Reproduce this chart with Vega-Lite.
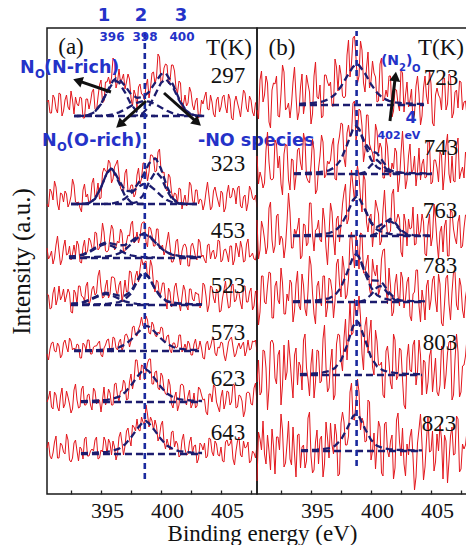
{
"$schema":"https://vega.github.io/schema/vega-lite/v6.json",
"padding":{"left":8,"top":6,"right":0,"bottom":0},
"background":"white",
"spacing":0,
"bounds":"flush",
"config":{"view":{"stroke":"#1a1a1a","strokeWidth":1.5},"axis":{"grid":false}},
"datasets":{
"redA":[
{"s":"297","x":390,"y":392},{"s":"297","x":390.25,"y":381},{"s":"297","x":390.5,"y":399},{"s":"297","x":390.75,"y":385},{"s":"297","x":391,"y":401},{"s":"297","x":391.25,"y":378},{"s":"297","x":391.5,"y":394},{"s":"297","x":391.75,"y":387},{"s":"297","x":392,"y":403},{"s":"297","x":392.25,"y":380},{"s":"297","x":392.5,"y":390},{"s":"297","x":392.75,"y":397},{"s":"297","x":393,"y":376},{"s":"297","x":393.25,"y":395},{"s":"297","x":393.5,"y":385},{"s":"297","x":393.75,"y":402},{"s":"297","x":394,"y":385},{"s":"297","x":394.25,"y":397},{"s":"297","x":394.5,"y":414},{"s":"297","x":394.75,"y":393},{"s":"297","x":395,"y":412},{"s":"297","x":395.25,"y":410},{"s":"297","x":395.5,"y":436},{"s":"297","x":395.75,"y":406},{"s":"297","x":396,"y":425},{"s":"297","x":396.25,"y":415},{"s":"297","x":396.5,"y":405},{"s":"297","x":396.75,"y":420},{"s":"297","x":397,"y":396},{"s":"297","x":397.25,"y":404},{"s":"297","x":397.5,"y":386},{"s":"297","x":397.75,"y":410},{"s":"297","x":398,"y":399},{"s":"297","x":398.25,"y":408},{"s":"297","x":398.5,"y":396},{"s":"297","x":398.75,"y":421},{"s":"297","x":399,"y":410},{"s":"297","x":399.25,"y":440},{"s":"297","x":399.5,"y":411},{"s":"297","x":399.75,"y":426},{"s":"297","x":400,"y":429},{"s":"297","x":400.25,"y":413},{"s":"297","x":400.5,"y":429},{"s":"297","x":400.75,"y":406},{"s":"297","x":401,"y":413},{"s":"297","x":401.25,"y":385},{"s":"297","x":401.5,"y":399},{"s":"297","x":401.75,"y":391},{"s":"297","x":402,"y":402},{"s":"297","x":402.25,"y":384},{"s":"297","x":402.5,"y":396},{"s":"297","x":402.75,"y":379},{"s":"297","x":403,"y":390},{"s":"297","x":403.25,"y":402},{"s":"297","x":403.5,"y":384},{"s":"297","x":403.75,"y":392},{"s":"297","x":404,"y":377},{"s":"297","x":404.25,"y":397},{"s":"297","x":404.5,"y":387},{"s":"297","x":404.75,"y":399},{"s":"297","x":405,"y":381},{"s":"297","x":405.25,"y":395},{"s":"297","x":405.5,"y":374},{"s":"297","x":405.75,"y":398},{"s":"297","x":406,"y":385},{"s":"297","x":406.25,"y":391},{"s":"297","x":406.5,"y":401},{"s":"297","x":406.75,"y":382},{"s":"297","x":407,"y":394},{"s":"297","x":407.25,"y":378},{"s":"297","x":407.5,"y":393},
{"s":"297","x":390.125,"y":394},{"s":"297","x":390.375,"y":381},{"s":"297","x":390.625,"y":396},{"s":"297","x":390.875,"y":381},{"s":"297","x":391.125,"y":400},{"s":"297","x":391.375,"y":383},{"s":"297","x":391.625,"y":399},{"s":"297","x":391.875,"y":384},{"s":"297","x":392.125,"y":394},{"s":"297","x":392.375,"y":397},{"s":"297","x":392.625,"y":388},{"s":"297","x":392.875,"y":396},{"s":"297","x":393.125,"y":376},{"s":"297","x":393.375,"y":395},{"s":"297","x":393.625,"y":392},{"s":"297","x":393.875,"y":405},{"s":"297","x":394.125,"y":383},{"s":"297","x":394.375,"y":409},{"s":"297","x":394.625,"y":391},{"s":"297","x":394.875,"y":412},{"s":"297","x":395.125,"y":417},{"s":"297","x":395.375,"y":416},{"s":"297","x":395.625,"y":433},{"s":"297","x":395.875,"y":412},{"s":"297","x":396.125,"y":411},{"s":"297","x":396.375,"y":420},{"s":"297","x":396.625,"y":412},{"s":"297","x":396.875,"y":415},{"s":"297","x":397.125,"y":388},{"s":"297","x":397.375,"y":399},{"s":"297","x":397.625,"y":407},{"s":"297","x":397.875,"y":400},{"s":"297","x":398.125,"y":394},{"s":"297","x":398.375,"y":415},{"s":"297","x":398.625,"y":406},{"s":"297","x":398.875,"y":422},{"s":"297","x":399.125,"y":417},{"s":"297","x":399.375,"y":437},{"s":"297","x":399.625,"y":413},{"s":"297","x":399.875,"y":430},{"s":"297","x":400.125,"y":410},{"s":"297","x":400.375,"y":429},{"s":"297","x":400.625,"y":423},{"s":"297","x":400.875,"y":401},{"s":"297","x":401.125,"y":411},{"s":"297","x":401.375,"y":390},{"s":"297","x":401.625,"y":388},{"s":"297","x":401.875,"y":407},{"s":"297","x":402.125,"y":389},{"s":"297","x":402.375,"y":393},{"s":"297","x":402.625,"y":376},{"s":"297","x":402.875,"y":394},{"s":"297","x":403.125,"y":397},{"s":"297","x":403.375,"y":385},{"s":"297","x":403.625,"y":399},{"s":"297","x":403.875,"y":380},{"s":"297","x":404.125,"y":394},{"s":"297","x":404.375,"y":382},{"s":"297","x":404.625,"y":397},{"s":"297","x":404.875,"y":387},{"s":"297","x":405.125,"y":400},{"s":"297","x":405.375,"y":376},{"s":"297","x":405.625,"y":392},{"s":"297","x":405.875,"y":391},{"s":"297","x":406.125,"y":377},{"s":"297","x":406.375,"y":404},{"s":"297","x":406.625,"y":386},{"s":"297","x":406.875,"y":398},{"s":"297","x":407.125,"y":382},{"s":"297","x":407.375,"y":391},
{"s":"323","x":390,"y":290},{"s":"323","x":390.25,"y":305},{"s":"323","x":390.5,"y":294},{"s":"323","x":390.75,"y":307},{"s":"323","x":391,"y":284},{"s":"323","x":391.25,"y":300},{"s":"323","x":391.5,"y":303},{"s":"323","x":391.75,"y":287},{"s":"323","x":392,"y":298},{"s":"323","x":392.25,"y":309},{"s":"323","x":392.5,"y":291},{"s":"323","x":392.75,"y":286},{"s":"323","x":393,"y":304},{"s":"323","x":393.25,"y":297},{"s":"323","x":393.5,"y":290},{"s":"323","x":393.75,"y":311},{"s":"323","x":394,"y":297},{"s":"323","x":394.25,"y":311},{"s":"323","x":394.5,"y":296},{"s":"323","x":394.75,"y":326},{"s":"323","x":395,"y":322},{"s":"323","x":395.25,"y":331},{"s":"323","x":395.5,"y":315},{"s":"323","x":395.75,"y":330},{"s":"323","x":396,"y":319},{"s":"323","x":396.25,"y":303},{"s":"323","x":396.5,"y":321},{"s":"323","x":396.75,"y":303},{"s":"323","x":397,"y":309},{"s":"323","x":397.25,"y":297},{"s":"323","x":397.5,"y":319},{"s":"323","x":397.75,"y":310},{"s":"323","x":398,"y":331},{"s":"323","x":398.25,"y":326},{"s":"323","x":398.5,"y":322},{"s":"323","x":398.75,"y":339},{"s":"323","x":399,"y":322},{"s":"323","x":399.25,"y":342},{"s":"323","x":399.5,"y":324},{"s":"323","x":399.75,"y":322},{"s":"323","x":400,"y":303},{"s":"323","x":400.25,"y":317},{"s":"323","x":400.5,"y":295},{"s":"323","x":400.75,"y":300},{"s":"323","x":401,"y":306},{"s":"323","x":401.25,"y":285},{"s":"323","x":401.5,"y":299},{"s":"323","x":401.75,"y":292},{"s":"323","x":402,"y":309},{"s":"323","x":402.25,"y":289},{"s":"323","x":402.5,"y":304},{"s":"323","x":402.75,"y":295},{"s":"323","x":403,"y":284},{"s":"323","x":403.25,"y":302},{"s":"323","x":403.5,"y":298},{"s":"323","x":403.75,"y":287},{"s":"323","x":404,"y":307},{"s":"323","x":404.25,"y":293},{"s":"323","x":404.5,"y":303},{"s":"323","x":404.75,"y":282},{"s":"323","x":405,"y":301},{"s":"323","x":405.25,"y":296},{"s":"323","x":405.5,"y":306},{"s":"323","x":405.75,"y":290},{"s":"323","x":406,"y":308},{"s":"323","x":406.25,"y":286},{"s":"323","x":406.5,"y":299},{"s":"323","x":406.75,"y":291},{"s":"323","x":407,"y":304},{"s":"323","x":407.25,"y":294},{"s":"323","x":407.5,"y":287},
{"s":"323","x":390.125,"y":287},{"s":"323","x":390.375,"y":302},{"s":"323","x":390.625,"y":313},{"s":"323","x":390.875,"y":290},{"s":"323","x":391.125,"y":301},{"s":"323","x":391.375,"y":292},{"s":"323","x":391.625,"y":300},{"s":"323","x":391.875,"y":291},{"s":"323","x":392.125,"y":315},{"s":"323","x":392.375,"y":292},{"s":"323","x":392.625,"y":292},{"s":"323","x":392.875,"y":282},{"s":"323","x":393.125,"y":310},{"s":"323","x":393.375,"y":300},{"s":"323","x":393.625,"y":294},{"s":"323","x":393.875,"y":316},{"s":"323","x":394.125,"y":300},{"s":"323","x":394.375,"y":295},{"s":"323","x":394.625,"y":321},{"s":"323","x":394.875,"y":323},{"s":"323","x":395.125,"y":334},{"s":"323","x":395.375,"y":311},{"s":"323","x":395.625,"y":327},{"s":"323","x":395.875,"y":334},{"s":"323","x":396.125,"y":306},{"s":"323","x":396.375,"y":302},{"s":"323","x":396.625,"y":325},{"s":"323","x":396.875,"y":303},{"s":"323","x":397.125,"y":309},{"s":"323","x":397.375,"y":300},{"s":"323","x":397.625,"y":326},{"s":"323","x":397.875,"y":315},{"s":"323","x":398.125,"y":331},{"s":"323","x":398.375,"y":313},{"s":"323","x":398.625,"y":339},{"s":"323","x":398.875,"y":336},{"s":"323","x":399.125,"y":323},{"s":"323","x":399.375,"y":345},{"s":"323","x":399.625,"y":321},{"s":"323","x":399.875,"y":306},{"s":"323","x":400.125,"y":320},{"s":"323","x":400.375,"y":302},{"s":"323","x":400.625,"y":301},{"s":"323","x":400.875,"y":291},{"s":"323","x":401.125,"y":305},{"s":"323","x":401.375,"y":293},{"s":"323","x":401.625,"y":288},{"s":"323","x":401.875,"y":312},{"s":"323","x":402.125,"y":294},{"s":"323","x":402.375,"y":304},{"s":"323","x":402.625,"y":290},{"s":"323","x":402.875,"y":294},{"s":"323","x":403.125,"y":290},{"s":"323","x":403.375,"y":312},{"s":"323","x":403.625,"y":284},{"s":"323","x":403.875,"y":303},{"s":"323","x":404.125,"y":299},{"s":"323","x":404.375,"y":287},{"s":"323","x":404.625,"y":301},{"s":"323","x":404.875,"y":286},{"s":"323","x":405.125,"y":309},{"s":"323","x":405.375,"y":297},{"s":"323","x":405.625,"y":303},{"s":"323","x":405.875,"y":306},{"s":"323","x":406.125,"y":288},{"s":"323","x":406.375,"y":297},{"s":"323","x":406.625,"y":283},{"s":"323","x":406.875,"y":308},{"s":"323","x":407.125,"y":296},{"s":"323","x":407.375,"y":299},
{"s":"453","x":390,"y":246},{"s":"453","x":390.25,"y":238},{"s":"453","x":390.5,"y":230},{"s":"453","x":390.75,"y":249},{"s":"453","x":391,"y":243},{"s":"453","x":391.25,"y":234},{"s":"453","x":391.5,"y":254},{"s":"453","x":391.75,"y":240},{"s":"453","x":392,"y":234},{"s":"453","x":392.25,"y":249},{"s":"453","x":392.5,"y":253},{"s":"453","x":392.75,"y":232},{"s":"453","x":393,"y":247},{"s":"453","x":393.25,"y":240},{"s":"453","x":393.5,"y":256},{"s":"453","x":393.75,"y":246},{"s":"453","x":394,"y":262},{"s":"453","x":394.25,"y":244},{"s":"453","x":394.5,"y":253},{"s":"453","x":394.75,"y":262},{"s":"453","x":395,"y":242},{"s":"453","x":395.25,"y":258},{"s":"453","x":395.5,"y":265},{"s":"453","x":395.75,"y":247},{"s":"453","x":396,"y":251},{"s":"453","x":396.25,"y":261},{"s":"453","x":396.5,"y":243},{"s":"453","x":396.75,"y":259},{"s":"453","x":397,"y":270},{"s":"453","x":397.25,"y":251},{"s":"453","x":397.5,"y":262},{"s":"453","x":397.75,"y":257},{"s":"453","x":398,"y":272},{"s":"453","x":398.25,"y":252},{"s":"453","x":398.5,"y":267},{"s":"453","x":398.75,"y":259},{"s":"453","x":399,"y":248},{"s":"453","x":399.25,"y":265},{"s":"453","x":399.5,"y":247},{"s":"453","x":399.75,"y":239},{"s":"453","x":400,"y":253},{"s":"453","x":400.25,"y":248},{"s":"453","x":400.5,"y":232},{"s":"453","x":400.75,"y":253},{"s":"453","x":401,"y":238},{"s":"453","x":401.25,"y":243},{"s":"453","x":401.5,"y":250},{"s":"453","x":401.75,"y":228},{"s":"453","x":402,"y":248},{"s":"453","x":402.25,"y":245},{"s":"453","x":402.5,"y":234},{"s":"453","x":402.75,"y":252},{"s":"453","x":403,"y":239},{"s":"453","x":403.25,"y":231},{"s":"453","x":403.5,"y":250},{"s":"453","x":403.75,"y":242},{"s":"453","x":404,"y":235},{"s":"453","x":404.25,"y":254},{"s":"453","x":404.5,"y":232},{"s":"453","x":404.75,"y":244},{"s":"453","x":405,"y":240},{"s":"453","x":405.25,"y":248},{"s":"453","x":405.5,"y":229},{"s":"453","x":405.75,"y":251},{"s":"453","x":406,"y":237},{"s":"453","x":406.25,"y":246},{"s":"453","x":406.5,"y":233},{"s":"453","x":406.75,"y":255},{"s":"453","x":407,"y":238},{"s":"453","x":407.25,"y":235},{"s":"453","x":407.5,"y":243},
{"s":"453","x":390.125,"y":235},{"s":"453","x":390.375,"y":243},{"s":"453","x":390.625,"y":236},{"s":"453","x":390.875,"y":258},{"s":"453","x":391.125,"y":229},{"s":"453","x":391.375,"y":247},{"s":"453","x":391.625,"y":239},{"s":"453","x":391.875,"y":248},{"s":"453","x":392.125,"y":240},{"s":"453","x":392.375,"y":239},{"s":"453","x":392.625,"y":249},{"s":"453","x":392.875,"y":231},{"s":"453","x":393.125,"y":254},{"s":"453","x":393.375,"y":243},{"s":"453","x":393.625,"y":253},{"s":"453","x":393.875,"y":243},{"s":"453","x":394.125,"y":261},{"s":"453","x":394.375,"y":246},{"s":"453","x":394.625,"y":271},{"s":"453","x":394.875,"y":243},{"s":"453","x":395.125,"y":244},{"s":"453","x":395.375,"y":269},{"s":"453","x":395.625,"y":244},{"s":"453","x":395.875,"y":253},{"s":"453","x":396.125,"y":265},{"s":"453","x":396.375,"y":242},{"s":"453","x":396.625,"y":252},{"s":"453","x":396.875,"y":258},{"s":"453","x":397.125,"y":273},{"s":"453","x":397.375,"y":253},{"s":"453","x":397.625,"y":251},{"s":"453","x":397.875,"y":270},{"s":"453","x":398.125,"y":272},{"s":"453","x":398.375,"y":247},{"s":"453","x":398.625,"y":266},{"s":"453","x":398.875,"y":248},{"s":"453","x":399.125,"y":265},{"s":"453","x":399.375,"y":245},{"s":"453","x":399.625,"y":249},{"s":"453","x":399.875,"y":244},{"s":"453","x":400.125,"y":262},{"s":"453","x":400.375,"y":232},{"s":"453","x":400.625,"y":238},{"s":"453","x":400.875,"y":255},{"s":"453","x":401.125,"y":229},{"s":"453","x":401.375,"y":249},{"s":"453","x":401.625,"y":246},{"s":"453","x":401.875,"y":228},{"s":"453","x":402.125,"y":251},{"s":"453","x":402.375,"y":237},{"s":"453","x":402.625,"y":255},{"s":"453","x":402.875,"y":237},{"s":"453","x":403.125,"y":234},{"s":"453","x":403.375,"y":249},{"s":"453","x":403.625,"y":235},{"s":"453","x":403.875,"y":244},{"s":"453","x":404.125,"y":238},{"s":"453","x":404.375,"y":253},{"s":"453","x":404.625,"y":234},{"s":"453","x":404.875,"y":245},{"s":"453","x":405.125,"y":232},{"s":"453","x":405.375,"y":248},{"s":"453","x":405.625,"y":234},{"s":"453","x":405.875,"y":245},{"s":"453","x":406.125,"y":253},{"s":"453","x":406.375,"y":232},{"s":"453","x":406.625,"y":250},{"s":"453","x":406.875,"y":237},{"s":"453","x":407.125,"y":241},{"s":"453","x":407.375,"y":234},
{"s":"523","x":390,"y":200},{"s":"523","x":390.25,"y":185},{"s":"523","x":390.5,"y":201},{"s":"523","x":390.75,"y":189},{"s":"523","x":391,"y":208},{"s":"523","x":391.25,"y":198},{"s":"523","x":391.5,"y":192},{"s":"523","x":391.75,"y":205},{"s":"523","x":392,"y":182},{"s":"523","x":392.25,"y":204},{"s":"523","x":392.5,"y":190},{"s":"523","x":392.75,"y":208},{"s":"523","x":393,"y":197},{"s":"523","x":393.25,"y":208},{"s":"523","x":393.5,"y":189},{"s":"523","x":393.75,"y":205},{"s":"523","x":394,"y":199},{"s":"523","x":394.25,"y":218},{"s":"523","x":394.5,"y":207},{"s":"523","x":394.75,"y":197},{"s":"523","x":395,"y":214},{"s":"523","x":395.25,"y":200},{"s":"523","x":395.5,"y":217},{"s":"523","x":395.75,"y":204},{"s":"523","x":396,"y":209},{"s":"523","x":396.25,"y":192},{"s":"523","x":396.5,"y":214},{"s":"523","x":396.75,"y":203},{"s":"523","x":397,"y":222},{"s":"523","x":397.25,"y":206},{"s":"523","x":397.5,"y":223},{"s":"523","x":397.75,"y":225},{"s":"523","x":398,"y":229},{"s":"523","x":398.25,"y":233},{"s":"523","x":398.5,"y":217},{"s":"523","x":398.75,"y":228},{"s":"523","x":399,"y":202},{"s":"523","x":399.25,"y":212},{"s":"523","x":399.5,"y":202},{"s":"523","x":399.75,"y":211},{"s":"523","x":400,"y":185},{"s":"523","x":400.25,"y":202},{"s":"523","x":400.5,"y":190},{"s":"523","x":400.75,"y":211},{"s":"523","x":401,"y":191},{"s":"523","x":401.25,"y":197},{"s":"523","x":401.5,"y":204},{"s":"523","x":401.75,"y":184},{"s":"523","x":402,"y":205},{"s":"523","x":402.25,"y":193},{"s":"523","x":402.5,"y":200},{"s":"523","x":402.75,"y":186},{"s":"523","x":403,"y":211},{"s":"523","x":403.25,"y":198},{"s":"523","x":403.5,"y":189},{"s":"523","x":403.75,"y":207},{"s":"523","x":404,"y":191},{"s":"523","x":404.25,"y":202},{"s":"523","x":404.5,"y":183},{"s":"523","x":404.75,"y":204},{"s":"523","x":405,"y":197},{"s":"523","x":405.25,"y":187},{"s":"523","x":405.5,"y":210},{"s":"523","x":405.75,"y":194},{"s":"523","x":406,"y":201},{"s":"523","x":406.25,"y":185},{"s":"523","x":406.5,"y":208},{"s":"523","x":406.75,"y":192},{"s":"523","x":407,"y":206},{"s":"523","x":407.25,"y":188},{"s":"523","x":407.5,"y":199},
{"s":"523","x":390.125,"y":199},{"s":"523","x":390.375,"y":186},{"s":"523","x":390.625,"y":207},{"s":"523","x":390.875,"y":195},{"s":"523","x":391.125,"y":194},{"s":"523","x":391.375,"y":205},{"s":"523","x":391.625,"y":198},{"s":"523","x":391.875,"y":201},{"s":"523","x":392.125,"y":181},{"s":"523","x":392.375,"y":201},{"s":"523","x":392.625,"y":208},{"s":"523","x":392.875,"y":198},{"s":"523","x":393.125,"y":193},{"s":"523","x":393.375,"y":212},{"s":"523","x":393.625,"y":194},{"s":"523","x":393.875,"y":208},{"s":"523","x":394.125,"y":201},{"s":"523","x":394.375,"y":224},{"s":"523","x":394.625,"y":196},{"s":"523","x":394.875,"y":208},{"s":"523","x":395.125,"y":196},{"s":"523","x":395.375,"y":217},{"s":"523","x":395.625,"y":216},{"s":"523","x":395.875,"y":198},{"s":"523","x":396.125,"y":213},{"s":"523","x":396.375,"y":201},{"s":"523","x":396.625,"y":202},{"s":"523","x":396.875,"y":223},{"s":"523","x":397.125,"y":210},{"s":"523","x":397.375,"y":218},{"s":"523","x":397.625,"y":212},{"s":"523","x":397.875,"y":236},{"s":"523","x":398.125,"y":232},{"s":"523","x":398.375,"y":217},{"s":"523","x":398.625,"y":234},{"s":"523","x":398.875,"y":210},{"s":"523","x":399.125,"y":214},{"s":"523","x":399.375,"y":197},{"s":"523","x":399.625,"y":211},{"s":"523","x":399.875,"y":195},{"s":"523","x":400.125,"y":206},{"s":"523","x":400.375,"y":187},{"s":"523","x":400.625,"y":207},{"s":"523","x":400.875,"y":200},{"s":"523","x":401.125,"y":183},{"s":"523","x":401.375,"y":209},{"s":"523","x":401.625,"y":188},{"s":"523","x":401.875,"y":205},{"s":"523","x":402.125,"y":195},{"s":"523","x":402.375,"y":202},{"s":"523","x":402.625,"y":200},{"s":"523","x":402.875,"y":190},{"s":"523","x":403.125,"y":209},{"s":"523","x":403.375,"y":182},{"s":"523","x":403.625,"y":208},{"s":"523","x":403.875,"y":196},{"s":"523","x":404.125,"y":205},{"s":"523","x":404.375,"y":182},{"s":"523","x":404.625,"y":196},{"s":"523","x":404.875,"y":213},{"s":"523","x":405.125,"y":186},{"s":"523","x":405.375,"y":208},{"s":"523","x":405.625,"y":192},{"s":"523","x":405.875,"y":203},{"s":"523","x":406.125,"y":191},{"s":"523","x":406.375,"y":208},{"s":"523","x":406.625,"y":192},{"s":"523","x":406.875,"y":202},{"s":"523","x":407.125,"y":184},{"s":"523","x":407.375,"y":203},
{"s":"573","x":390,"y":140},{"s":"573","x":390.25,"y":145},{"s":"573","x":390.5,"y":152},{"s":"573","x":390.75,"y":142},{"s":"573","x":391,"y":148},{"s":"573","x":391.25,"y":139},{"s":"573","x":391.5,"y":154},{"s":"573","x":391.75,"y":142},{"s":"573","x":392,"y":153},{"s":"573","x":392.25,"y":146},{"s":"573","x":392.5,"y":150},{"s":"573","x":392.75,"y":136},{"s":"573","x":393,"y":151},{"s":"573","x":393.25,"y":144},{"s":"573","x":393.5,"y":154},{"s":"573","x":393.75,"y":140},{"s":"573","x":394,"y":148},{"s":"573","x":394.25,"y":151},{"s":"573","x":394.5,"y":139},{"s":"573","x":394.75,"y":146},{"s":"573","x":395,"y":154},{"s":"573","x":395.25,"y":143},{"s":"573","x":395.5,"y":157},{"s":"573","x":395.75,"y":146},{"s":"573","x":396,"y":152},{"s":"573","x":396.25,"y":143},{"s":"573","x":396.5,"y":159},{"s":"573","x":396.75,"y":156},{"s":"573","x":397,"y":153},{"s":"573","x":397.25,"y":168},{"s":"573","x":397.5,"y":158},{"s":"573","x":397.75,"y":169},{"s":"573","x":398,"y":168},{"s":"573","x":398.25,"y":178},{"s":"573","x":398.5,"y":161},{"s":"573","x":398.75,"y":172},{"s":"573","x":399,"y":159},{"s":"573","x":399.25,"y":162},{"s":"573","x":399.5,"y":167},{"s":"573","x":399.75,"y":152},{"s":"573","x":400,"y":158},{"s":"573","x":400.25,"y":144},{"s":"573","x":400.5,"y":151},{"s":"573","x":400.75,"y":146},{"s":"573","x":401,"y":159},{"s":"573","x":401.25,"y":142},{"s":"573","x":401.5,"y":150},{"s":"573","x":401.75,"y":153},{"s":"573","x":402,"y":139},{"s":"573","x":402.25,"y":150},{"s":"573","x":402.5,"y":145},{"s":"573","x":402.75,"y":153},{"s":"573","x":403,"y":136},{"s":"573","x":403.25,"y":150},{"s":"573","x":403.5,"y":144},{"s":"573","x":403.75,"y":154},{"s":"573","x":404,"y":141},{"s":"573","x":404.25,"y":147},{"s":"573","x":404.5,"y":152},{"s":"573","x":404.75,"y":139},{"s":"573","x":405,"y":142},{"s":"573","x":405.25,"y":155},{"s":"573","x":405.5,"y":147},{"s":"573","x":405.75,"y":140},{"s":"573","x":406,"y":151},{"s":"573","x":406.25,"y":149},{"s":"573","x":406.5,"y":138},{"s":"573","x":406.75,"y":154},{"s":"573","x":407,"y":145},{"s":"573","x":407.25,"y":152},{"s":"573","x":407.5,"y":142},
{"s":"573","x":390.125,"y":134},{"s":"573","x":390.375,"y":151},{"s":"573","x":390.625,"y":143},{"s":"573","x":390.875,"y":151},{"s":"573","x":391.125,"y":136},{"s":"573","x":391.375,"y":151},{"s":"573","x":391.625,"y":147},{"s":"573","x":391.875,"y":156},{"s":"573","x":392.125,"y":144},{"s":"573","x":392.375,"y":144},{"s":"573","x":392.625,"y":149},{"s":"573","x":392.875,"y":136},{"s":"573","x":393.125,"y":149},{"s":"573","x":393.375,"y":154},{"s":"573","x":393.625,"y":140},{"s":"573","x":393.875,"y":147},{"s":"573","x":394.125,"y":148},{"s":"573","x":394.375,"y":153},{"s":"573","x":394.625,"y":137},{"s":"573","x":394.875,"y":149},{"s":"573","x":395.125,"y":155},{"s":"573","x":395.375,"y":142},{"s":"573","x":395.625,"y":156},{"s":"573","x":395.875,"y":144},{"s":"573","x":396.125,"y":155},{"s":"573","x":396.375,"y":148},{"s":"573","x":396.625,"y":160},{"s":"573","x":396.875,"y":147},{"s":"573","x":397.125,"y":167},{"s":"573","x":397.375,"y":159},{"s":"573","x":397.625,"y":165},{"s":"573","x":397.875,"y":177},{"s":"573","x":398.125,"y":167},{"s":"573","x":398.375,"y":174},{"s":"573","x":398.625,"y":160},{"s":"573","x":398.875,"y":169},{"s":"573","x":399.125,"y":157},{"s":"573","x":399.375,"y":160},{"s":"573","x":399.625,"y":166},{"s":"573","x":399.875,"y":152},{"s":"573","x":400.125,"y":159},{"s":"573","x":400.375,"y":141},{"s":"573","x":400.625,"y":151},{"s":"573","x":400.875,"y":147},{"s":"573","x":401.125,"y":159},{"s":"573","x":401.375,"y":145},{"s":"573","x":401.625,"y":144},{"s":"573","x":401.875,"y":150},{"s":"573","x":402.125,"y":139},{"s":"573","x":402.375,"y":155},{"s":"573","x":402.625,"y":145},{"s":"573","x":402.875,"y":146},{"s":"573","x":403.125,"y":135},{"s":"573","x":403.375,"y":153},{"s":"573","x":403.625,"y":147},{"s":"573","x":403.875,"y":157},{"s":"573","x":404.125,"y":138},{"s":"573","x":404.375,"y":146},{"s":"573","x":404.625,"y":151},{"s":"573","x":404.875,"y":133},{"s":"573","x":405.125,"y":152},{"s":"573","x":405.375,"y":157},{"s":"573","x":405.625,"y":137},{"s":"573","x":405.875,"y":147},{"s":"573","x":406.125,"y":145},{"s":"573","x":406.375,"y":152},{"s":"573","x":406.625,"y":143},{"s":"573","x":406.875,"y":144},{"s":"573","x":407.125,"y":153},{"s":"573","x":407.375,"y":154},
{"s":"623","x":390,"y":92},{"s":"623","x":390.25,"y":103},{"s":"623","x":390.5,"y":85},{"s":"623","x":390.75,"y":99},{"s":"623","x":391,"y":83},{"s":"623","x":391.25,"y":106},{"s":"623","x":391.5,"y":90},{"s":"623","x":391.75,"y":97},{"s":"623","x":392,"y":81},{"s":"623","x":392.25,"y":104},{"s":"623","x":392.5,"y":94},{"s":"623","x":392.75,"y":87},{"s":"623","x":393,"y":108},{"s":"623","x":393.25,"y":89},{"s":"623","x":393.5,"y":100},{"s":"623","x":393.75,"y":84},{"s":"623","x":394,"y":103},{"s":"623","x":394.25,"y":94},{"s":"623","x":394.5,"y":82},{"s":"623","x":394.75,"y":107},{"s":"623","x":395,"y":93},{"s":"623","x":395.25,"y":101},{"s":"623","x":395.5,"y":89},{"s":"623","x":395.75,"y":111},{"s":"623","x":396,"y":93},{"s":"623","x":396.25,"y":103},{"s":"623","x":396.5,"y":111},{"s":"623","x":396.75,"y":95},{"s":"623","x":397,"y":120},{"s":"623","x":397.25,"y":113},{"s":"623","x":397.5,"y":134},{"s":"623","x":397.75,"y":114},{"s":"623","x":398,"y":128},{"s":"623","x":398.25,"y":122},{"s":"623","x":398.5,"y":135},{"s":"623","x":398.75,"y":110},{"s":"623","x":399,"y":122},{"s":"623","x":399.25,"y":106},{"s":"623","x":399.5,"y":121},{"s":"623","x":399.75,"y":105},{"s":"623","x":400,"y":99},{"s":"623","x":400.25,"y":109},{"s":"623","x":400.5,"y":86},{"s":"623","x":400.75,"y":102},{"s":"623","x":401,"y":89},{"s":"623","x":401.25,"y":110},{"s":"623","x":401.5,"y":93},{"s":"623","x":401.75,"y":98},{"s":"623","x":402,"y":86},{"s":"623","x":402.25,"y":101},{"s":"623","x":402.5,"y":88},{"s":"623","x":402.75,"y":105},{"s":"623","x":403,"y":94},{"s":"623","x":403.25,"y":82},{"s":"623","x":403.5,"y":100},{"s":"623","x":403.75,"y":92},{"s":"623","x":404,"y":107},{"s":"623","x":404.25,"y":87},{"s":"623","x":404.5,"y":97},{"s":"623","x":404.75,"y":85},{"s":"623","x":405,"y":103},{"s":"623","x":405.25,"y":89},{"s":"623","x":405.5,"y":110},{"s":"623","x":405.75,"y":86},{"s":"623","x":406,"y":99},{"s":"623","x":406.25,"y":93},{"s":"623","x":406.5,"y":83},{"s":"623","x":406.75,"y":102},{"s":"623","x":407,"y":90},{"s":"623","x":407.25,"y":106},{"s":"623","x":407.5,"y":91},
{"s":"623","x":390.125,"y":96},{"s":"623","x":390.375,"y":87},{"s":"623","x":390.625,"y":102},{"s":"623","x":390.875,"y":87},{"s":"623","x":391.125,"y":98},{"s":"623","x":391.375,"y":86},{"s":"623","x":391.625,"y":103},{"s":"623","x":391.875,"y":90},{"s":"623","x":392.125,"y":85},{"s":"623","x":392.375,"y":110},{"s":"623","x":392.625,"y":86},{"s":"623","x":392.875,"y":105},{"s":"623","x":393.125,"y":89},{"s":"623","x":393.375,"y":99},{"s":"623","x":393.625,"y":89},{"s":"623","x":393.875,"y":106},{"s":"623","x":394.125,"y":90},{"s":"623","x":394.375,"y":94},{"s":"623","x":394.625,"y":94},{"s":"623","x":394.875,"y":89},{"s":"623","x":395.125,"y":105},{"s":"623","x":395.375,"y":89},{"s":"623","x":395.625,"y":110},{"s":"623","x":395.875,"y":98},{"s":"623","x":396.125,"y":103},{"s":"623","x":396.375,"y":114},{"s":"623","x":396.625,"y":94},{"s":"623","x":396.875,"y":112},{"s":"623","x":397.125,"y":105},{"s":"623","x":397.375,"y":134},{"s":"623","x":397.625,"y":121},{"s":"623","x":397.875,"y":129},{"s":"623","x":398.125,"y":114},{"s":"623","x":398.375,"y":131},{"s":"623","x":398.625,"y":135},{"s":"623","x":398.875,"y":110},{"s":"623","x":399.125,"y":123},{"s":"623","x":399.375,"y":104},{"s":"623","x":399.625,"y":118},{"s":"623","x":399.875,"y":100},{"s":"623","x":400.125,"y":115},{"s":"623","x":400.375,"y":90},{"s":"623","x":400.625,"y":97},{"s":"623","x":400.875,"y":83},{"s":"623","x":401.125,"y":109},{"s":"623","x":401.375,"y":108},{"s":"623","x":401.625,"y":89},{"s":"623","x":401.875,"y":104},{"s":"623","x":402.125,"y":90},{"s":"623","x":402.375,"y":86},{"s":"623","x":402.625,"y":107},{"s":"623","x":402.875,"y":99},{"s":"623","x":403.125,"y":95},{"s":"623","x":403.375,"y":79},{"s":"623","x":403.625,"y":100},{"s":"623","x":403.875,"y":109},{"s":"623","x":404.125,"y":92},{"s":"623","x":404.375,"y":82},{"s":"623","x":404.625,"y":104},{"s":"623","x":404.875,"y":91},{"s":"623","x":405.125,"y":102},{"s":"623","x":405.375,"y":92},{"s":"623","x":405.625,"y":109},{"s":"623","x":405.875,"y":87},{"s":"623","x":406.125,"y":98},{"s":"623","x":406.375,"y":77},{"s":"623","x":406.625,"y":101},{"s":"623","x":406.875,"y":101},{"s":"623","x":407.125,"y":89},{"s":"623","x":407.375,"y":111},
{"s":"643","x":390,"y":46},{"s":"643","x":390.25,"y":38},{"s":"643","x":390.5,"y":41},{"s":"643","x":390.75,"y":58},{"s":"643","x":391,"y":36},{"s":"643","x":391.25,"y":49},{"s":"643","x":391.5,"y":40},{"s":"643","x":391.75,"y":54},{"s":"643","x":392,"y":32},{"s":"643","x":392.25,"y":51},{"s":"643","x":392.5,"y":43},{"s":"643","x":392.75,"y":47},{"s":"643","x":393,"y":35},{"s":"643","x":393.25,"y":57},{"s":"643","x":393.5,"y":38},{"s":"643","x":393.75,"y":45},{"s":"643","x":394,"y":54},{"s":"643","x":394.25,"y":35},{"s":"643","x":394.5,"y":44},{"s":"643","x":394.75,"y":57},{"s":"643","x":395,"y":39},{"s":"643","x":395.25,"y":51},{"s":"643","x":395.5,"y":53},{"s":"643","x":395.75,"y":34},{"s":"643","x":396,"y":57},{"s":"643","x":396.25,"y":51},{"s":"643","x":396.5,"y":48},{"s":"643","x":396.75,"y":66},{"s":"643","x":397,"y":48},{"s":"643","x":397.25,"y":67},{"s":"643","x":397.5,"y":75},{"s":"643","x":397.75,"y":63},{"s":"643","x":398,"y":72},{"s":"643","x":398.25,"y":89},{"s":"643","x":398.5,"y":67},{"s":"643","x":398.75,"y":73},{"s":"643","x":399,"y":74},{"s":"643","x":399.25,"y":53},{"s":"643","x":399.5,"y":69},{"s":"643","x":399.75,"y":52},{"s":"643","x":400,"y":55},{"s":"643","x":400.25,"y":44},{"s":"643","x":400.5,"y":63},{"s":"643","x":400.75,"y":53},{"s":"643","x":401,"y":37},{"s":"643","x":401.25,"y":54},{"s":"643","x":401.5,"y":45},{"s":"643","x":401.75,"y":40},{"s":"643","x":402,"y":57},{"s":"643","x":402.25,"y":48},{"s":"643","x":402.5,"y":31},{"s":"643","x":402.75,"y":51},{"s":"643","x":403,"y":44},{"s":"643","x":403.25,"y":36},{"s":"643","x":403.5,"y":56},{"s":"643","x":403.75,"y":42},{"s":"643","x":404,"y":53},{"s":"643","x":404.25,"y":39},{"s":"643","x":404.5,"y":47},{"s":"643","x":404.75,"y":32},{"s":"643","x":405,"y":54},{"s":"643","x":405.25,"y":50},{"s":"643","x":405.5,"y":35},{"s":"643","x":405.75,"y":43},{"s":"643","x":406,"y":57},{"s":"643","x":406.25,"y":37},{"s":"643","x":406.5,"y":46},{"s":"643","x":406.75,"y":52},{"s":"643","x":407,"y":33},{"s":"643","x":407.25,"y":41},{"s":"643","x":407.5,"y":49},
{"s":"643","x":390.125,"y":52},{"s":"643","x":390.375,"y":35},{"s":"643","x":390.625,"y":52},{"s":"643","x":390.875,"y":36},{"s":"643","x":391.125,"y":51},{"s":"643","x":391.375,"y":42},{"s":"643","x":391.625,"y":60},{"s":"643","x":391.875,"y":34},{"s":"643","x":392.125,"y":36},{"s":"643","x":392.375,"y":54},{"s":"643","x":392.625,"y":33},{"s":"643","x":392.875,"y":45},{"s":"643","x":393.125,"y":55},{"s":"643","x":393.375,"y":38},{"s":"643","x":393.625,"y":43},{"s":"643","x":393.875,"y":43},{"s":"643","x":394.125,"y":57},{"s":"643","x":394.375,"y":36},{"s":"643","x":394.625,"y":42},{"s":"643","x":394.875,"y":53},{"s":"643","x":395.125,"y":55},{"s":"643","x":395.375,"y":39},{"s":"643","x":395.625,"y":47},{"s":"643","x":395.875,"y":40},{"s":"643","x":396.125,"y":62},{"s":"643","x":396.375,"y":39},{"s":"643","x":396.625,"y":63},{"s":"643","x":396.875,"y":55},{"s":"643","x":397.125,"y":69},{"s":"643","x":397.375,"y":63},{"s":"643","x":397.625,"y":64},{"s":"643","x":397.875,"y":77},{"s":"643","x":398.125,"y":69},{"s":"643","x":398.375,"y":80},{"s":"643","x":398.625,"y":77},{"s":"643","x":398.875,"y":64},{"s":"643","x":399.125,"y":68},{"s":"643","x":399.375,"y":58},{"s":"643","x":399.625,"y":73},{"s":"643","x":399.875,"y":45},{"s":"643","x":400.125,"y":49},{"s":"643","x":400.375,"y":62},{"s":"643","x":400.625,"y":47},{"s":"643","x":400.875,"y":50},{"s":"643","x":401.125,"y":39},{"s":"643","x":401.375,"y":60},{"s":"643","x":401.625,"y":39},{"s":"643","x":401.875,"y":52},{"s":"643","x":402.125,"y":41},{"s":"643","x":402.375,"y":49},{"s":"643","x":402.625,"y":35},{"s":"643","x":402.875,"y":49},{"s":"643","x":403.125,"y":51},{"s":"643","x":403.375,"y":38},{"s":"643","x":403.625,"y":55},{"s":"643","x":403.875,"y":38},{"s":"643","x":404.125,"y":50},{"s":"643","x":404.375,"y":38},{"s":"643","x":404.625,"y":33},{"s":"643","x":404.875,"y":52},{"s":"643","x":405.125,"y":48},{"s":"643","x":405.375,"y":55},{"s":"643","x":405.625,"y":29},{"s":"643","x":405.875,"y":53},{"s":"643","x":406.125,"y":39},{"s":"643","x":406.375,"y":53},{"s":"643","x":406.625,"y":47},{"s":"643","x":406.875,"y":31},{"s":"643","x":407.125,"y":43},{"s":"643","x":407.375,"y":36}
],
"redB":[
{"s":"723","x":390,"y":384},{"s":"723","x":390.25,"y":414},{"s":"723","x":390.5,"y":392},{"s":"723","x":390.75,"y":418},{"s":"723","x":391,"y":372},{"s":"723","x":391.25,"y":404},{"s":"723","x":391.5,"y":410},{"s":"723","x":391.75,"y":378},{"s":"723","x":392,"y":400},{"s":"723","x":392.25,"y":422},{"s":"723","x":392.5,"y":386},{"s":"723","x":392.75,"y":376},{"s":"723","x":393,"y":412},{"s":"723","x":393.25,"y":398},{"s":"723","x":393.5,"y":382},{"s":"723","x":393.75,"y":420},{"s":"723","x":394,"y":392},{"s":"723","x":394.25,"y":410},{"s":"723","x":394.5,"y":370},{"s":"723","x":394.75,"y":418},{"s":"723","x":395,"y":397},{"s":"723","x":395.25,"y":409},{"s":"723","x":395.5,"y":378},{"s":"723","x":395.75,"y":419},{"s":"723","x":396,"y":408},{"s":"723","x":396.25,"y":388},{"s":"723","x":396.5,"y":435},{"s":"723","x":396.75,"y":403},{"s":"723","x":397,"y":419},{"s":"723","x":397.25,"y":396},{"s":"723","x":397.5,"y":439},{"s":"723","x":397.75,"y":417},{"s":"723","x":398,"y":456},{"s":"723","x":398.25,"y":436},{"s":"723","x":398.5,"y":418},{"s":"723","x":398.75,"y":444},{"s":"723","x":399,"y":402},{"s":"723","x":399.25,"y":442},{"s":"723","x":399.5,"y":413},{"s":"723","x":399.75,"y":421},{"s":"723","x":400,"y":392},{"s":"723","x":400.25,"y":430},{"s":"723","x":400.5,"y":393},{"s":"723","x":400.75,"y":404},{"s":"723","x":401,"y":418},{"s":"723","x":401.25,"y":377},{"s":"723","x":401.5,"y":405},{"s":"723","x":401.75,"y":390},{"s":"723","x":402,"y":424},{"s":"723","x":402.25,"y":382},{"s":"723","x":402.5,"y":412},{"s":"723","x":402.75,"y":394},{"s":"723","x":403,"y":372},{"s":"723","x":403.25,"y":408},{"s":"723","x":403.5,"y":400},{"s":"723","x":403.75,"y":378},{"s":"723","x":404,"y":418},{"s":"723","x":404.25,"y":390},{"s":"723","x":404.5,"y":410},{"s":"723","x":404.75,"y":368},{"s":"723","x":405,"y":406},{"s":"723","x":405.25,"y":396},{"s":"723","x":405.5,"y":416},{"s":"723","x":405.75,"y":384},{"s":"723","x":406,"y":420},{"s":"723","x":406.25,"y":376},{"s":"723","x":406.5,"y":402},{"s":"723","x":406.75,"y":386},{"s":"723","x":407,"y":412},{"s":"723","x":407.25,"y":392},{"s":"723","x":407.5,"y":378},
{"s":"723","x":390.125,"y":375},{"s":"723","x":390.375,"y":423},{"s":"723","x":390.625,"y":399},{"s":"723","x":390.875,"y":411},{"s":"723","x":391.125,"y":366},{"s":"723","x":391.375,"y":411},{"s":"723","x":391.625,"y":418},{"s":"723","x":391.875,"y":377},{"s":"723","x":392.125,"y":429},{"s":"723","x":392.375,"y":384},{"s":"723","x":392.625,"y":391},{"s":"723","x":392.875,"y":390},{"s":"723","x":393.125,"y":427},{"s":"723","x":393.375,"y":374},{"s":"723","x":393.625,"y":407},{"s":"723","x":393.875,"y":380},{"s":"723","x":394.125,"y":419},{"s":"723","x":394.375,"y":402},{"s":"723","x":394.625,"y":380},{"s":"723","x":394.875,"y":432},{"s":"723","x":395.125,"y":395},{"s":"723","x":395.375,"y":376},{"s":"723","x":395.625,"y":419},{"s":"723","x":395.875,"y":412},{"s":"723","x":396.125,"y":412},{"s":"723","x":396.375,"y":388},{"s":"723","x":396.625,"y":427},{"s":"723","x":396.875,"y":429},{"s":"723","x":397.125,"y":398},{"s":"723","x":397.375,"y":398},{"s":"723","x":397.625,"y":454},{"s":"723","x":397.875,"y":431},{"s":"723","x":398.125,"y":458},{"s":"723","x":398.375,"y":411},{"s":"723","x":398.625,"y":453},{"s":"723","x":398.875,"y":411},{"s":"723","x":399.125,"y":426},{"s":"723","x":399.375,"y":406},{"s":"723","x":399.625,"y":433},{"s":"723","x":399.875,"y":417},{"s":"723","x":400.125,"y":393},{"s":"723","x":400.375,"y":436},{"s":"723","x":400.625,"y":395},{"s":"723","x":400.875,"y":397},{"s":"723","x":401.125,"y":418},{"s":"723","x":401.375,"y":383},{"s":"723","x":401.625,"y":404},{"s":"723","x":401.875,"y":383},{"s":"723","x":402.125,"y":421},{"s":"723","x":402.375,"y":399},{"s":"723","x":402.625,"y":387},{"s":"723","x":402.875,"y":405},{"s":"723","x":403.125,"y":380},{"s":"723","x":403.375,"y":418},{"s":"723","x":403.625,"y":369},{"s":"723","x":403.875,"y":406},{"s":"723","x":404.125,"y":398},{"s":"723","x":404.375,"y":424},{"s":"723","x":404.625,"y":371},{"s":"723","x":404.875,"y":399},{"s":"723","x":405.125,"y":399},{"s":"723","x":405.375,"y":384},{"s":"723","x":405.625,"y":416},{"s":"723","x":405.875,"y":390},{"s":"723","x":406.125,"y":418},{"s":"723","x":406.375,"y":381},{"s":"723","x":406.625,"y":404},{"s":"723","x":406.875,"y":413},{"s":"723","x":407.125,"y":384},{"s":"723","x":407.375,"y":393},
{"s":"743","x":390,"y":338},{"s":"743","x":390.25,"y":322},{"s":"743","x":390.5,"y":306},{"s":"743","x":390.75,"y":344},{"s":"743","x":391,"y":332},{"s":"743","x":391.25,"y":314},{"s":"743","x":391.5,"y":354},{"s":"743","x":391.75,"y":326},{"s":"743","x":392,"y":310},{"s":"743","x":392.25,"y":340},{"s":"743","x":392.5,"y":348},{"s":"743","x":392.75,"y":304},{"s":"743","x":393,"y":334},{"s":"743","x":393.25,"y":318},{"s":"743","x":393.5,"y":346},{"s":"743","x":393.75,"y":324},{"s":"743","x":394,"y":353},{"s":"743","x":394.25,"y":313},{"s":"743","x":394.5,"y":329},{"s":"743","x":394.75,"y":344},{"s":"743","x":395,"y":304},{"s":"743","x":395.25,"y":338},{"s":"743","x":395.5,"y":352},{"s":"743","x":395.75,"y":319},{"s":"743","x":396,"y":330},{"s":"743","x":396.25,"y":349},{"s":"743","x":396.5,"y":315},{"s":"743","x":396.75,"y":349},{"s":"743","x":397,"y":371},{"s":"743","x":397.25,"y":336},{"s":"743","x":397.5,"y":361},{"s":"743","x":397.75,"y":357},{"s":"743","x":398,"y":391},{"s":"743","x":398.25,"y":354},{"s":"743","x":398.5,"y":385},{"s":"743","x":398.75,"y":368},{"s":"743","x":399,"y":343},{"s":"743","x":399.25,"y":379},{"s":"743","x":399.5,"y":345},{"s":"743","x":399.75,"y":332},{"s":"743","x":400,"y":363},{"s":"743","x":400.25,"y":351},{"s":"743","x":400.5,"y":316},{"s":"743","x":400.75,"y":356},{"s":"743","x":401,"y":322},{"s":"743","x":401.25,"y":331},{"s":"743","x":401.5,"y":346},{"s":"743","x":401.75,"y":302},{"s":"743","x":402,"y":341},{"s":"743","x":402.25,"y":336},{"s":"743","x":402.5,"y":314},{"s":"743","x":402.75,"y":350},{"s":"743","x":403,"y":324},{"s":"743","x":403.25,"y":308},{"s":"743","x":403.5,"y":346},{"s":"743","x":403.75,"y":330},{"s":"743","x":404,"y":316},{"s":"743","x":404.25,"y":354},{"s":"743","x":404.5,"y":310},{"s":"743","x":404.75,"y":334},{"s":"743","x":405,"y":326},{"s":"743","x":405.25,"y":342},{"s":"743","x":405.5,"y":304},{"s":"743","x":405.75,"y":348},{"s":"743","x":406,"y":320},{"s":"743","x":406.25,"y":338},{"s":"743","x":406.5,"y":312},{"s":"743","x":406.75,"y":356},{"s":"743","x":407,"y":322},{"s":"743","x":407.25,"y":316},{"s":"743","x":407.5,"y":332},
{"s":"743","x":390.125,"y":310},{"s":"743","x":390.375,"y":316},{"s":"743","x":390.625,"y":311},{"s":"743","x":390.875,"y":362},{"s":"743","x":391.125,"y":315},{"s":"743","x":391.375,"y":316},{"s":"743","x":391.625,"y":350},{"s":"743","x":391.875,"y":338},{"s":"743","x":392.125,"y":299},{"s":"743","x":392.375,"y":350},{"s":"743","x":392.625,"y":314},{"s":"743","x":392.875,"y":335},{"s":"743","x":393.125,"y":304},{"s":"743","x":393.375,"y":344},{"s":"743","x":393.625,"y":331},{"s":"743","x":393.875,"y":361},{"s":"743","x":394.125,"y":317},{"s":"743","x":394.375,"y":311},{"s":"743","x":394.625,"y":355},{"s":"743","x":394.875,"y":300},{"s":"743","x":395.125,"y":325},{"s":"743","x":395.375,"y":359},{"s":"743","x":395.625,"y":316},{"s":"743","x":395.875,"y":333},{"s":"743","x":396.125,"y":334},{"s":"743","x":396.375,"y":356},{"s":"743","x":396.625,"y":314},{"s":"743","x":396.875,"y":358},{"s":"743","x":397.125,"y":370},{"s":"743","x":397.375,"y":327},{"s":"743","x":397.625,"y":369},{"s":"743","x":397.875,"y":360},{"s":"743","x":398.125,"y":393},{"s":"743","x":398.375,"y":362},{"s":"743","x":398.625,"y":383},{"s":"743","x":398.875,"y":332},{"s":"743","x":399.125,"y":379},{"s":"743","x":399.375,"y":350},{"s":"743","x":399.625,"y":341},{"s":"743","x":399.875,"y":370},{"s":"743","x":400.125,"y":341},{"s":"743","x":400.375,"y":346},{"s":"743","x":400.625,"y":316},{"s":"743","x":400.875,"y":347},{"s":"743","x":401.125,"y":317},{"s":"743","x":401.375,"y":325},{"s":"743","x":401.625,"y":342},{"s":"743","x":401.875,"y":314},{"s":"743","x":402.125,"y":363},{"s":"743","x":402.375,"y":305},{"s":"743","x":402.625,"y":338},{"s":"743","x":402.875,"y":321},{"s":"743","x":403.125,"y":338},{"s":"743","x":403.375,"y":323},{"s":"743","x":403.625,"y":314},{"s":"743","x":403.875,"y":335},{"s":"743","x":404.125,"y":317},{"s":"743","x":404.375,"y":352},{"s":"743","x":404.625,"y":312},{"s":"743","x":404.875,"y":334},{"s":"743","x":405.125,"y":312},{"s":"743","x":405.375,"y":339},{"s":"743","x":405.625,"y":320},{"s":"743","x":405.875,"y":360},{"s":"743","x":406.125,"y":311},{"s":"743","x":406.375,"y":313},{"s":"743","x":406.625,"y":348},{"s":"743","x":406.875,"y":315},{"s":"743","x":407.125,"y":327},{"s":"743","x":407.375,"y":342},
{"s":"763","x":390,"y":274},{"s":"763","x":390.25,"y":244},{"s":"763","x":390.5,"y":266},{"s":"763","x":390.75,"y":240},{"s":"763","x":391,"y":286},{"s":"763","x":391.25,"y":254},{"s":"763","x":391.5,"y":248},{"s":"763","x":391.75,"y":280},{"s":"763","x":392,"y":258},{"s":"763","x":392.25,"y":236},{"s":"763","x":392.5,"y":272},{"s":"763","x":392.75,"y":282},{"s":"763","x":393,"y":246},{"s":"763","x":393.25,"y":260},{"s":"763","x":393.5,"y":276},{"s":"763","x":393.75,"y":238},{"s":"763","x":394,"y":269},{"s":"763","x":394.25,"y":251},{"s":"763","x":394.5,"y":291},{"s":"763","x":394.75,"y":243},{"s":"763","x":395,"y":265},{"s":"763","x":395.25,"y":254},{"s":"763","x":395.5,"y":286},{"s":"763","x":395.75,"y":246},{"s":"763","x":396,"y":259},{"s":"763","x":396.25,"y":282},{"s":"763","x":396.5,"y":239},{"s":"763","x":396.75,"y":278},{"s":"763","x":397,"y":269},{"s":"763","x":397.25,"y":302},{"s":"763","x":397.5,"y":270},{"s":"763","x":397.75,"y":303},{"s":"763","x":398,"y":308},{"s":"763","x":398.25,"y":318},{"s":"763","x":398.5,"y":318},{"s":"763","x":398.75,"y":282},{"s":"763","x":399,"y":314},{"s":"763","x":399.25,"y":262},{"s":"763","x":399.5,"y":280},{"s":"763","x":399.75,"y":265},{"s":"763","x":400,"y":287},{"s":"763","x":400.25,"y":249},{"s":"763","x":400.5,"y":284},{"s":"763","x":400.75,"y":275},{"s":"763","x":401,"y":261},{"s":"763","x":401.25,"y":300},{"s":"763","x":401.5,"y":270},{"s":"763","x":401.75,"y":280},{"s":"763","x":402,"y":242},{"s":"763","x":402.25,"y":280},{"s":"763","x":402.5,"y":248},{"s":"763","x":402.75,"y":265},{"s":"763","x":403,"y":287},{"s":"763","x":403.25,"y":250},{"s":"763","x":403.5,"y":258},{"s":"763","x":403.75,"y":280},{"s":"763","x":404,"y":240},{"s":"763","x":404.25,"y":268},{"s":"763","x":404.5,"y":248},{"s":"763","x":404.75,"y":290},{"s":"763","x":405,"y":252},{"s":"763","x":405.25,"y":262},{"s":"763","x":405.5,"y":242},{"s":"763","x":405.75,"y":274},{"s":"763","x":406,"y":238},{"s":"763","x":406.25,"y":282},{"s":"763","x":406.5,"y":256},{"s":"763","x":406.75,"y":272},{"s":"763","x":407,"y":246},{"s":"763","x":407.25,"y":266},{"s":"763","x":407.5,"y":280},
{"s":"763","x":390.125,"y":235},{"s":"763","x":390.375,"y":273},{"s":"763","x":390.625,"y":255},{"s":"763","x":390.875,"y":247},{"s":"763","x":391.125,"y":292},{"s":"763","x":391.375,"y":241},{"s":"763","x":391.625,"y":278},{"s":"763","x":391.875,"y":249},{"s":"763","x":392.125,"y":255},{"s":"763","x":392.375,"y":248},{"s":"763","x":392.625,"y":301},{"s":"763","x":392.875,"y":246},{"s":"763","x":393.125,"y":265},{"s":"763","x":393.375,"y":266},{"s":"763","x":393.625,"y":235},{"s":"763","x":393.875,"y":270},{"s":"763","x":394.125,"y":248},{"s":"763","x":394.375,"y":291},{"s":"763","x":394.625,"y":259},{"s":"763","x":394.875,"y":264},{"s":"763","x":395.125,"y":274},{"s":"763","x":395.375,"y":252},{"s":"763","x":395.625,"y":274},{"s":"763","x":395.875,"y":229},{"s":"763","x":396.125,"y":291},{"s":"763","x":396.375,"y":255},{"s":"763","x":396.625,"y":275},{"s":"763","x":396.875,"y":252},{"s":"763","x":397.125,"y":290},{"s":"763","x":397.375,"y":310},{"s":"763","x":397.625,"y":275},{"s":"763","x":397.875,"y":324},{"s":"763","x":398.125,"y":293},{"s":"763","x":398.375,"y":328},{"s":"763","x":398.625,"y":296},{"s":"763","x":398.875,"y":320},{"s":"763","x":399.125,"y":272},{"s":"763","x":399.375,"y":277},{"s":"763","x":399.625,"y":247},{"s":"763","x":399.875,"y":294},{"s":"763","x":400.125,"y":280},{"s":"763","x":400.375,"y":253},{"s":"763","x":400.625,"y":304},{"s":"763","x":400.875,"y":260},{"s":"763","x":401.125,"y":263},{"s":"763","x":401.375,"y":305},{"s":"763","x":401.625,"y":273},{"s":"763","x":401.875,"y":275},{"s":"763","x":402.125,"y":237},{"s":"763","x":402.375,"y":272},{"s":"763","x":402.625,"y":275},{"s":"763","x":402.875,"y":266},{"s":"763","x":403.125,"y":249},{"s":"763","x":403.375,"y":280},{"s":"763","x":403.625,"y":263},{"s":"763","x":403.875,"y":272},{"s":"763","x":404.125,"y":238},{"s":"763","x":404.375,"y":280},{"s":"763","x":404.625,"y":257},{"s":"763","x":404.875,"y":275},{"s":"763","x":405.125,"y":235},{"s":"763","x":405.375,"y":268},{"s":"763","x":405.625,"y":268},{"s":"763","x":405.875,"y":238},{"s":"763","x":406.125,"y":284},{"s":"763","x":406.375,"y":265},{"s":"763","x":406.625,"y":250},{"s":"763","x":406.875,"y":279},{"s":"763","x":407.125,"y":248},{"s":"763","x":407.375,"y":279},
{"s":"783","x":390,"y":204},{"s":"783","x":390.25,"y":182},{"s":"783","x":390.5,"y":218},{"s":"783","x":390.75,"y":190},{"s":"783","x":391,"y":222},{"s":"783","x":391.25,"y":176},{"s":"783","x":391.5,"y":208},{"s":"783","x":391.75,"y":194},{"s":"783","x":392,"y":226},{"s":"783","x":392.25,"y":180},{"s":"783","x":392.5,"y":200},{"s":"783","x":392.75,"y":214},{"s":"783","x":393,"y":172},{"s":"783","x":393.25,"y":210},{"s":"783","x":393.5,"y":188},{"s":"783","x":393.75,"y":220},{"s":"783","x":394,"y":185},{"s":"783","x":394.25,"y":203},{"s":"783","x":394.5,"y":229},{"s":"783","x":394.75,"y":180},{"s":"783","x":395,"y":208},{"s":"783","x":395.25,"y":194},{"s":"783","x":395.5,"y":218},{"s":"783","x":395.75,"y":177},{"s":"783","x":396,"y":216},{"s":"783","x":396.25,"y":203},{"s":"783","x":396.5,"y":193},{"s":"783","x":396.75,"y":235},{"s":"783","x":397,"y":197},{"s":"783","x":397.25,"y":226},{"s":"783","x":397.5,"y":199},{"s":"783","x":397.75,"y":255},{"s":"783","x":398,"y":241},{"s":"783","x":398.25,"y":258},{"s":"783","x":398.5,"y":225},{"s":"783","x":398.75,"y":260},{"s":"783","x":399,"y":221},{"s":"783","x":399.25,"y":239},{"s":"783","x":399.5,"y":198},{"s":"783","x":399.75,"y":223},{"s":"783","x":400,"y":229},{"s":"783","x":400.25,"y":205},{"s":"783","x":400.5,"y":244},{"s":"783","x":400.75,"y":206},{"s":"783","x":401,"y":226},{"s":"783","x":401.25,"y":178},{"s":"783","x":401.5,"y":210},{"s":"783","x":401.75,"y":198},{"s":"783","x":402,"y":222},{"s":"783","x":402.25,"y":186},{"s":"783","x":402.5,"y":212},{"s":"783","x":402.75,"y":178},{"s":"783","x":403,"y":200},{"s":"783","x":403.25,"y":224},{"s":"783","x":403.5,"y":188},{"s":"783","x":403.75,"y":204},{"s":"783","x":404,"y":174},{"s":"783","x":404.25,"y":214},{"s":"783","x":404.5,"y":194},{"s":"783","x":404.75,"y":218},{"s":"783","x":405,"y":182},{"s":"783","x":405.25,"y":210},{"s":"783","x":405.5,"y":168},{"s":"783","x":405.75,"y":216},{"s":"783","x":406,"y":190},{"s":"783","x":406.25,"y":202},{"s":"783","x":406.5,"y":222},{"s":"783","x":406.75,"y":184},{"s":"783","x":407,"y":208},{"s":"783","x":407.25,"y":176},{"s":"783","x":407.5,"y":206},
{"s":"783","x":390.125,"y":169},{"s":"783","x":390.375,"y":218},{"s":"783","x":390.625,"y":192},{"s":"783","x":390.875,"y":208},{"s":"783","x":391.125,"y":221},{"s":"783","x":391.375,"y":176},{"s":"783","x":391.625,"y":213},{"s":"783","x":391.875,"y":190},{"s":"783","x":392.125,"y":211},{"s":"783","x":392.375,"y":180},{"s":"783","x":392.625,"y":193},{"s":"783","x":392.875,"y":211},{"s":"783","x":393.125,"y":183},{"s":"783","x":393.375,"y":223},{"s":"783","x":393.625,"y":184},{"s":"783","x":393.875,"y":209},{"s":"783","x":394.125,"y":178},{"s":"783","x":394.375,"y":238},{"s":"783","x":394.625,"y":201},{"s":"783","x":394.875,"y":170},{"s":"783","x":395.125,"y":213},{"s":"783","x":395.375,"y":188},{"s":"783","x":395.625,"y":218},{"s":"783","x":395.875,"y":187},{"s":"783","x":396.125,"y":214},{"s":"783","x":396.375,"y":176},{"s":"783","x":396.625,"y":230},{"s":"783","x":396.875,"y":210},{"s":"783","x":397.125,"y":238},{"s":"783","x":397.375,"y":195},{"s":"783","x":397.625,"y":215},{"s":"783","x":397.875,"y":262},{"s":"783","x":398.125,"y":226},{"s":"783","x":398.375,"y":250},{"s":"783","x":398.625,"y":261},{"s":"783","x":398.875,"y":221},{"s":"783","x":399.125,"y":232},{"s":"783","x":399.375,"y":205},{"s":"783","x":399.625,"y":235},{"s":"783","x":399.875,"y":218},{"s":"783","x":400.125,"y":199},{"s":"783","x":400.375,"y":235},{"s":"783","x":400.625,"y":245},{"s":"783","x":400.875,"y":190},{"s":"783","x":401.125,"y":208},{"s":"783","x":401.375,"y":182},{"s":"783","x":401.625,"y":220},{"s":"783","x":401.875,"y":188},{"s":"783","x":402.125,"y":216},{"s":"783","x":402.375,"y":195},{"s":"783","x":402.625,"y":217},{"s":"783","x":402.875,"y":173},{"s":"783","x":403.125,"y":202},{"s":"783","x":403.375,"y":224},{"s":"783","x":403.625,"y":172},{"s":"783","x":403.875,"y":193},{"s":"783","x":404.125,"y":208},{"s":"783","x":404.375,"y":184},{"s":"783","x":404.625,"y":214},{"s":"783","x":404.875,"y":194},{"s":"783","x":405.125,"y":220},{"s":"783","x":405.375,"y":171},{"s":"783","x":405.625,"y":190},{"s":"783","x":405.875,"y":219},{"s":"783","x":406.125,"y":174},{"s":"783","x":406.375,"y":222},{"s":"783","x":406.625,"y":189},{"s":"783","x":406.875,"y":216},{"s":"783","x":407.125,"y":184},{"s":"783","x":407.375,"y":197},
{"s":"803","x":390,"y":112},{"s":"803","x":390.25,"y":99},{"s":"803","x":390.5,"y":144},{"s":"803","x":390.75,"y":126},{"s":"803","x":391,"y":106},{"s":"803","x":391.25,"y":154},{"s":"803","x":391.5,"y":116},{"s":"803","x":391.75,"y":139},{"s":"803","x":392,"y":89},{"s":"803","x":392.25,"y":149},{"s":"803","x":392.5,"y":122},{"s":"803","x":392.75,"y":136},{"s":"803","x":393,"y":96},{"s":"803","x":393.25,"y":146},{"s":"803","x":393.5,"y":132},{"s":"803","x":393.75,"y":104},{"s":"803","x":394,"y":160},{"s":"803","x":394.25,"y":115},{"s":"803","x":394.5,"y":130},{"s":"803","x":394.75,"y":96},{"s":"803","x":395,"y":144},{"s":"803","x":395.25,"y":111},{"s":"803","x":395.5,"y":155},{"s":"803","x":395.75,"y":127},{"s":"803","x":396,"y":106},{"s":"803","x":396.25,"y":145},{"s":"803","x":396.5,"y":99},{"s":"803","x":396.75,"y":160},{"s":"803","x":397,"y":134},{"s":"803","x":397.25,"y":156},{"s":"803","x":397.5,"y":134},{"s":"803","x":397.75,"y":193},{"s":"803","x":398,"y":161},{"s":"803","x":398.25,"y":179},{"s":"803","x":398.5,"y":198},{"s":"803","x":398.75,"y":140},{"s":"803","x":399,"y":168},{"s":"803","x":399.25,"y":141},{"s":"803","x":399.5,"y":174},{"s":"803","x":399.75,"y":119},{"s":"803","x":400,"y":153},{"s":"803","x":400.25,"y":129},{"s":"803","x":400.5,"y":99},{"s":"803","x":400.75,"y":143},{"s":"803","x":401,"y":132},{"s":"803","x":401.25,"y":105},{"s":"803","x":401.5,"y":154},{"s":"803","x":401.75,"y":118},{"s":"803","x":402,"y":144},{"s":"803","x":402.25,"y":89},{"s":"803","x":402.5,"y":136},{"s":"803","x":402.75,"y":124},{"s":"803","x":403,"y":149},{"s":"803","x":403.25,"y":109},{"s":"803","x":403.5,"y":154},{"s":"803","x":403.75,"y":99},{"s":"803","x":404,"y":132},{"s":"803","x":404.25,"y":112},{"s":"803","x":404.5,"y":144},{"s":"803","x":404.75,"y":119},{"s":"803","x":405,"y":102},{"s":"803","x":405.25,"y":109},{"s":"803","x":405.5,"y":146},{"s":"803","x":405.75,"y":119},{"s":"803","x":406,"y":152},{"s":"803","x":406.25,"y":94},{"s":"803","x":406.5,"y":134},{"s":"803","x":406.75,"y":142},{"s":"803","x":407,"y":102},{"s":"803","x":407.25,"y":129},{"s":"803","x":407.5,"y":156},
{"s":"803","x":390.125,"y":134},{"s":"803","x":390.375,"y":102},{"s":"803","x":390.625,"y":143},{"s":"803","x":390.875,"y":84},{"s":"803","x":391.125,"y":152},{"s":"803","x":391.375,"y":150},{"s":"803","x":391.625,"y":110},{"s":"803","x":391.875,"y":144},{"s":"803","x":392.125,"y":109},{"s":"803","x":392.375,"y":114},{"s":"803","x":392.625,"y":154},{"s":"803","x":392.875,"y":114},{"s":"803","x":393.125,"y":139},{"s":"803","x":393.375,"y":109},{"s":"803","x":393.625,"y":128},{"s":"803","x":393.875,"y":154},{"s":"803","x":394.125,"y":126},{"s":"803","x":394.375,"y":98},{"s":"803","x":394.625,"y":145},{"s":"803","x":394.875,"y":112},{"s":"803","x":395.125,"y":143},{"s":"803","x":395.375,"y":113},{"s":"803","x":395.625,"y":169},{"s":"803","x":395.875,"y":102},{"s":"803","x":396.125,"y":131},{"s":"803","x":396.375,"y":94},{"s":"803","x":396.625,"y":150},{"s":"803","x":396.875,"y":159},{"s":"803","x":397.125,"y":123},{"s":"803","x":397.375,"y":175},{"s":"803","x":397.625,"y":159},{"s":"803","x":397.875,"y":159},{"s":"803","x":398.125,"y":195},{"s":"803","x":398.375,"y":179},{"s":"803","x":398.625,"y":177},{"s":"803","x":398.875,"y":124},{"s":"803","x":399.125,"y":177},{"s":"803","x":399.375,"y":160},{"s":"803","x":399.625,"y":127},{"s":"803","x":399.875,"y":164},{"s":"803","x":400.125,"y":129},{"s":"803","x":400.375,"y":132},{"s":"803","x":400.625,"y":96},{"s":"803","x":400.875,"y":148},{"s":"803","x":401.125,"y":111},{"s":"803","x":401.375,"y":160},{"s":"803","x":401.625,"y":114},{"s":"803","x":401.875,"y":146},{"s":"803","x":402.125,"y":115},{"s":"803","x":402.375,"y":85},{"s":"803","x":402.625,"y":150},{"s":"803","x":402.875,"y":122},{"s":"803","x":403.125,"y":154},{"s":"803","x":403.375,"y":122},{"s":"803","x":403.625,"y":139},{"s":"803","x":403.875,"y":134},{"s":"803","x":404.125,"y":100},{"s":"803","x":404.375,"y":138},{"s":"803","x":404.625,"y":102},{"s":"803","x":404.875,"y":136},{"s":"803","x":405.125,"y":98},{"s":"803","x":405.375,"y":148},{"s":"803","x":405.625,"y":105},{"s":"803","x":405.875,"y":141},{"s":"803","x":406.125,"y":153},{"s":"803","x":406.375,"y":99},{"s":"803","x":406.625,"y":160},{"s":"803","x":406.875,"y":97},{"s":"803","x":407.125,"y":128},{"s":"803","x":407.375,"y":138},
{"s":"823","x":390,"y":13},{"s":"823","x":390.25,"y":55},{"s":"823","x":390.5,"y":73},{"s":"823","x":390.75,"y":30},{"s":"823","x":391,"y":43},{"s":"823","x":391.25,"y":65},{"s":"823","x":391.5,"y":20},{"s":"823","x":391.75,"y":57},{"s":"823","x":392,"y":80},{"s":"823","x":392.25,"y":27},{"s":"823","x":392.5,"y":50},{"s":"823","x":392.75,"y":35},{"s":"823","x":393,"y":67},{"s":"823","x":393.25,"y":17},{"s":"823","x":393.5,"y":60},{"s":"823","x":393.75,"y":47},{"s":"823","x":394,"y":26},{"s":"823","x":394.25,"y":76},{"s":"823","x":394.5,"y":38},{"s":"823","x":394.75,"y":24},{"s":"823","x":395,"y":64},{"s":"823","x":395.25,"y":55},{"s":"823","x":395.5,"y":17},{"s":"823","x":395.75,"y":72},{"s":"823","x":396,"y":36},{"s":"823","x":396.25,"y":49},{"s":"823","x":396.5,"y":70},{"s":"823","x":396.75,"y":18},{"s":"823","x":397,"y":71},{"s":"823","x":397.25,"y":72},{"s":"823","x":397.5,"y":49},{"s":"823","x":397.75,"y":102},{"s":"823","x":398,"y":75},{"s":"823","x":398.25,"y":92},{"s":"823","x":398.5,"y":102},{"s":"823","x":398.75,"y":76},{"s":"823","x":399,"y":52},{"s":"823","x":399.25,"y":94},{"s":"823","x":399.5,"y":34},{"s":"823","x":399.75,"y":61},{"s":"823","x":400,"y":48},{"s":"823","x":400.25,"y":67},{"s":"823","x":400.5,"y":18},{"s":"823","x":400.75,"y":72},{"s":"823","x":401,"y":37},{"s":"823","x":401.25,"y":59},{"s":"823","x":401.5,"y":26},{"s":"823","x":401.75,"y":81},{"s":"823","x":402,"y":38},{"s":"823","x":402.25,"y":30},{"s":"823","x":402.5,"y":50},{"s":"823","x":402.75,"y":57},{"s":"823","x":403,"y":37},{"s":"823","x":403.25,"y":17},{"s":"823","x":403.5,"y":65},{"s":"823","x":403.75,"y":50},{"s":"823","x":404,"y":27},{"s":"823","x":404.25,"y":77},{"s":"823","x":404.5,"y":43},{"s":"823","x":404.75,"y":23},{"s":"823","x":405,"y":60},{"s":"823","x":405.25,"y":70},{"s":"823","x":405.5,"y":15},{"s":"823","x":405.75,"y":53},{"s":"823","x":406,"y":33},{"s":"823","x":406.25,"y":67},{"s":"823","x":406.5,"y":40},{"s":"823","x":406.75,"y":75},{"s":"823","x":407,"y":25},{"s":"823","x":407.25,"y":45},{"s":"823","x":407.5,"y":63},
{"s":"823","x":390.125,"y":62},{"s":"823","x":390.375,"y":44},{"s":"823","x":390.625,"y":40},{"s":"823","x":390.875,"y":59},{"s":"823","x":391.125,"y":24},{"s":"823","x":391.375,"y":48},{"s":"823","x":391.625,"y":57},{"s":"823","x":391.875,"y":44},{"s":"823","x":392.125,"y":64},{"s":"823","x":392.375,"y":31},{"s":"823","x":392.625,"y":73},{"s":"823","x":392.875,"y":29},{"s":"823","x":393.125,"y":40},{"s":"823","x":393.375,"y":59},{"s":"823","x":393.625,"y":26},{"s":"823","x":393.875,"y":49},{"s":"823","x":394.125,"y":33},{"s":"823","x":394.375,"y":82},{"s":"823","x":394.625,"y":21},{"s":"823","x":394.875,"y":52},{"s":"823","x":395.125,"y":30},{"s":"823","x":395.375,"y":58},{"s":"823","x":395.625,"y":30},{"s":"823","x":395.875,"y":56},{"s":"823","x":396.125,"y":71},{"s":"823","x":396.375,"y":40},{"s":"823","x":396.625,"y":59},{"s":"823","x":396.875,"y":20},{"s":"823","x":397.125,"y":82},{"s":"823","x":397.375,"y":49},{"s":"823","x":397.625,"y":58},{"s":"823","x":397.875,"y":111},{"s":"823","x":398.125,"y":74},{"s":"823","x":398.375,"y":115},{"s":"823","x":398.625,"y":64},{"s":"823","x":398.875,"y":72},{"s":"823","x":399.125,"y":53},{"s":"823","x":399.375,"y":92},{"s":"823","x":399.625,"y":43},{"s":"823","x":399.875,"y":25},{"s":"823","x":400.125,"y":73},{"s":"823","x":400.375,"y":21},{"s":"823","x":400.625,"y":70},{"s":"823","x":400.875,"y":43},{"s":"823","x":401.125,"y":53},{"s":"823","x":401.375,"y":15},{"s":"823","x":401.625,"y":74},{"s":"823","x":401.875,"y":52},{"s":"823","x":402.125,"y":66},{"s":"823","x":402.375,"y":18},{"s":"823","x":402.625,"y":39},{"s":"823","x":402.875,"y":65},{"s":"823","x":403.125,"y":4},{"s":"823","x":403.375,"y":51},{"s":"823","x":403.625,"y":80},{"s":"823","x":403.875,"y":14},{"s":"823","x":404.125,"y":54},{"s":"823","x":404.375,"y":42},{"s":"823","x":404.625,"y":63},{"s":"823","x":404.875,"y":32},{"s":"823","x":405.125,"y":43},{"s":"823","x":405.375,"y":55},{"s":"823","x":405.625,"y":59},{"s":"823","x":405.875,"y":11},{"s":"823","x":406.125,"y":58},{"s":"823","x":406.375,"y":39},{"s":"823","x":406.625,"y":78},{"s":"823","x":406.875,"y":22},{"s":"823","x":407.125,"y":50},{"s":"823","x":407.375,"y":49}
],
"fitA":[
{"s":"297b","x":392.25,"y":378},{"s":"297b","x":403.1,"y":378},
{"s":"297e","x":392.25,"y":378},{"s":"297e","x":392.5,"y":378},{"s":"297e","x":393,"y":378.2},{"s":"297e","x":393.5,"y":379},{"s":"297e","x":394,"y":382.3},{"s":"297e","x":394.5,"y":390.1},{"s":"297e","x":395,"y":402.4},{"s":"297e","x":395.5,"y":413.2},{"s":"297e","x":395.75,"y":415.6},{"s":"297e","x":396,"y":415.1},{"s":"297e","x":396.5,"y":408.2},{"s":"297e","x":397,"y":399.9},{"s":"297e","x":397.5,"y":396.1},{"s":"297e","x":398,"y":396.9},{"s":"297e","x":398.5,"y":402.1},{"s":"297e","x":399,"y":411.1},{"s":"297e","x":399.5,"y":419.7},{"s":"297e","x":399.9,"y":420.9},{"s":"297e","x":400.5,"y":409.5},{"s":"297e","x":401,"y":395.2},{"s":"297e","x":401.5,"y":384.8},{"s":"297e","x":402,"y":379.7},{"s":"297e","x":402.5,"y":378.3},{"s":"297e","x":403.1,"y":378},
{"s":"297c1","x":392.5,"y":378},{"s":"297c1","x":393,"y":378.2},{"s":"297c1","x":393.5,"y":379},{"s":"297c1","x":394,"y":382.2},{"s":"297c1","x":394.5,"y":389.8},{"s":"297c1","x":395,"y":401.7},{"s":"297c1","x":395.5,"y":411.5},{"s":"297c1","x":395.75,"y":413},{"s":"297c1","x":396,"y":411.5},{"s":"297c1","x":396.5,"y":401.7},{"s":"297c1","x":397,"y":389.8},{"s":"297c1","x":397.5,"y":382.2},{"s":"297c1","x":398,"y":379},{"s":"297c1","x":398.5,"y":378.2},{"s":"297c1","x":399,"y":378},
{"s":"297c2","x":394,"y":378.1},{"s":"297c2","x":394.5,"y":378.3},{"s":"297c2","x":395,"y":378.7},{"s":"297c2","x":395.5,"y":379.7},{"s":"297c2","x":396,"y":381.6},{"s":"297c2","x":396.5,"y":384.5},{"s":"297c2","x":397,"y":388},{"s":"297c2","x":397.5,"y":391.2},{"s":"297c2","x":398,"y":392.9},{"s":"297c2","x":398.15,"y":393},{"s":"297c2","x":398.5,"y":392.4},{"s":"297c2","x":399,"y":390},{"s":"297c2","x":399.5,"y":386.6},{"s":"297c2","x":400,"y":383.2},{"s":"297c2","x":400.5,"y":380.7},{"s":"297c2","x":401,"y":379.2},{"s":"297c2","x":401.5,"y":378.5},{"s":"297c2","x":402,"y":378.1},
{"s":"297c3","x":397,"y":378.1},{"s":"297c3","x":397.5,"y":378.7},{"s":"297c3","x":398,"y":381},{"s":"297c3","x":398.5,"y":387.5},{"s":"297c3","x":399,"y":399.1},{"s":"297c3","x":399.5,"y":411.1},{"s":"297c3","x":399.9,"y":415},{"s":"297c3","x":400.5,"y":406.8},{"s":"297c3","x":401,"y":394},{"s":"297c3","x":401.5,"y":384.3},{"s":"297c3","x":402,"y":379.7},{"s":"297c3","x":402.5,"y":378.3},{"s":"297c3","x":403,"y":378},
{"s":"323b","x":392,"y":290},{"s":"323b","x":402.5,"y":290},
{"s":"323e","x":392,"y":290},{"s":"323e","x":392.5,"y":290},{"s":"323e","x":393,"y":290.1},{"s":"323e","x":393.5,"y":291},{"s":"323e","x":394,"y":295.1},{"s":"323e","x":394.5,"y":306.6},{"s":"323e","x":395,"y":321.3},{"s":"323e","x":395.33,"y":325.4},{"s":"323e","x":395.5,"y":324.6},{"s":"323e","x":396,"y":313.7},{"s":"323e","x":396.5,"y":303.4},{"s":"323e","x":397,"y":302.6},{"s":"323e","x":397.5,"y":308.9},{"s":"323e","x":398,"y":318.4},{"s":"323e","x":398.5,"y":330.6},{"s":"323e","x":399,"y":335.7},{"s":"323e","x":399.1,"y":335},{"s":"323e","x":399.5,"y":325.2},{"s":"323e","x":400,"y":307.2},{"s":"323e","x":400.5,"y":295.2},{"s":"323e","x":401,"y":291},{"s":"323e","x":401.5,"y":290.1},{"s":"323e","x":402,"y":290},{"s":"323e","x":402.5,"y":290},
{"s":"323c1","x":392.5,"y":290},{"s":"323c1","x":393,"y":290.1},{"s":"323c1","x":393.5,"y":290.9},{"s":"323c1","x":394,"y":295.1},{"s":"323c1","x":394.5,"y":306.6},{"s":"323c1","x":395,"y":321.1},{"s":"323c1","x":395.33,"y":325},{"s":"323c1","x":395.5,"y":323.9},{"s":"323c1","x":396,"y":311.5},{"s":"323c1","x":396.5,"y":298},{"s":"323c1","x":397,"y":291.7},{"s":"323c1","x":397.5,"y":290.2},{"s":"323c1","x":398,"y":290},
{"s":"323c2","x":394.5,"y":290},{"s":"323c2","x":395,"y":290.1},{"s":"323c2","x":395.5,"y":290.7},{"s":"323c2","x":396,"y":292.2},{"s":"323c2","x":396.5,"y":295.4},{"s":"323c2","x":397,"y":300.6},{"s":"323c2","x":397.5,"y":306.3},{"s":"323c2","x":398,"y":309.8},{"s":"323c2","x":398.15,"y":310},{"s":"323c2","x":398.5,"y":308.9},{"s":"323c2","x":399,"y":304.1},{"s":"323c2","x":399.5,"y":298.3},{"s":"323c2","x":400,"y":293.9},{"s":"323c2","x":400.5,"y":291.4},{"s":"323c2","x":401,"y":290.4},{"s":"323c2","x":401.5,"y":290.1},{"s":"323c2","x":402,"y":290},
{"s":"323c3","x":397,"y":290.3},{"s":"323c3","x":397.5,"y":292},{"s":"323c3","x":398,"y":298.6},{"s":"323c3","x":398.5,"y":311.7},{"s":"323c3","x":399,"y":321.6},{"s":"323c3","x":399.1,"y":322},{"s":"323c3","x":399.5,"y":316.9},{"s":"323c3","x":400,"y":303.3},{"s":"323c3","x":400.5,"y":293.8},{"s":"323c3","x":401,"y":290.6},{"s":"323c3","x":401.5,"y":290},
{"s":"453b","x":391.83,"y":236},{"s":"453b","x":402.83,"y":236},
{"s":"453e","x":391.83,"y":237.5},{"s":"453e","x":392,"y":237.7},{"s":"453e","x":392.5,"y":238.3},{"s":"453e","x":393,"y":239.7},{"s":"453e","x":393.5,"y":242.5},{"s":"453e","x":394,"y":246.2},{"s":"453e","x":394.5,"y":249.8},{"s":"453e","x":394.9,"y":251.6},{"s":"453e","x":395.5,"y":250.1},{"s":"453e","x":396,"y":248.7},{"s":"453e","x":396.5,"y":249},{"s":"453e","x":397,"y":252.6},{"s":"453e","x":397.5,"y":257.2},{"s":"453e","x":398.1,"y":260.9},{"s":"453e","x":398.5,"y":258.3},{"s":"453e","x":399,"y":252.4},{"s":"453e","x":399.5,"y":246.3},{"s":"453e","x":400,"y":241.7},{"s":"453e","x":400.5,"y":239.4},{"s":"453e","x":401,"y":238.2},{"s":"453e","x":401.5,"y":237.7},{"s":"453e","x":402,"y":237.4},{"s":"453e","x":402.5,"y":237.1},{"s":"453e","x":402.83,"y":237},
{"s":"453c1","x":391.83,"y":237},{"s":"453c1","x":392,"y":237.2},{"s":"453c1","x":392.5,"y":237.8},{"s":"453c1","x":393,"y":239.1},{"s":"453c1","x":393.5,"y":241.7},{"s":"453c1","x":394,"y":245.2},{"s":"453c1","x":394.5,"y":248.6},{"s":"453c1","x":394.9,"y":250},{"s":"453c1","x":395.5,"y":247.5},{"s":"453c1","x":396,"y":244.1},{"s":"453c1","x":396.5,"y":240.8},{"s":"453c1","x":397,"y":238.7},{"s":"453c1","x":397.5,"y":237.5},{"s":"453c1","x":398,"y":236.9},{"s":"453c1","x":398.5,"y":236.7},{"s":"453c1","x":399,"y":236.6},
{"s":"453c2","x":393,"y":236.6},{"s":"453c2","x":394,"y":237},{"s":"453c2","x":395,"y":237.6},{"s":"453c2","x":395.5,"y":238.6},{"s":"453c2","x":396,"y":240.6},{"s":"453c2","x":396.5,"y":244.2},{"s":"453c2","x":397,"y":249.9},{"s":"453c2","x":397.5,"y":255.7},{"s":"453c2","x":398.1,"y":260},{"s":"453c2","x":398.5,"y":257.6},{"s":"453c2","x":399,"y":251.8},{"s":"453c2","x":399.5,"y":245.8},{"s":"453c2","x":400,"y":241.3},{"s":"453c2","x":400.5,"y":239},{"s":"453c2","x":401,"y":237.9},{"s":"453c2","x":401.5,"y":237.4},{"s":"453c2","x":402,"y":237.1},{"s":"453c2","x":402.83,"y":236.8},
{"s":"523b","x":392,"y":189},{"s":"523b","x":402.92,"y":189},
{"s":"523e","x":392,"y":190.3},{"s":"523e","x":392.5,"y":190.8},{"s":"523e","x":393,"y":191.9},{"s":"523e","x":393.5,"y":194.1},{"s":"523e","x":394,"y":197},{"s":"523e","x":394.5,"y":199.8},{"s":"523e","x":394.9,"y":201.2},{"s":"523e","x":395.5,"y":199.8},{"s":"523e","x":396,"y":198.3},{"s":"523e","x":396.5,"y":198.5},{"s":"523e","x":397,"y":202.6},{"s":"523e","x":397.5,"y":213.2},{"s":"523e","x":397.8,"y":219.5},{"s":"523e","x":398.1,"y":221.8},{"s":"523e","x":398.5,"y":216.8},{"s":"523e","x":399,"y":205.5},{"s":"523e","x":399.5,"y":196.9},{"s":"523e","x":400,"y":192.8},{"s":"523e","x":400.5,"y":191.4},{"s":"523e","x":401,"y":190.6},{"s":"523e","x":401.5,"y":190.1},{"s":"523e","x":402,"y":189.8},{"s":"523e","x":402.5,"y":189.6},{"s":"523e","x":402.92,"y":189.5},
{"s":"523c1","x":392,"y":189.9},{"s":"523c1","x":392.5,"y":190.4},{"s":"523c1","x":393,"y":191.4},{"s":"523c1","x":393.5,"y":193.5},{"s":"523c1","x":394,"y":196.3},{"s":"523c1","x":394.5,"y":198.9},{"s":"523c1","x":394.9,"y":200},{"s":"523c1","x":395.5,"y":198},{"s":"523c1","x":396,"y":195.4},{"s":"523c1","x":396.5,"y":192.7},{"s":"523c1","x":397,"y":191.1},{"s":"523c1","x":397.5,"y":190.2},{"s":"523c1","x":398,"y":189.8},{"s":"523c1","x":398.5,"y":189.6},
{"s":"523c2","x":393,"y":189.5},{"s":"523c2","x":394,"y":189.7},{"s":"523c2","x":395,"y":190.2},{"s":"523c2","x":396,"y":191.9},{"s":"523c2","x":396.5,"y":194.8},{"s":"523c2","x":397,"y":200.5},{"s":"523c2","x":397.5,"y":212},{"s":"523c2","x":397.8,"y":218.4},{"s":"523c2","x":398.1,"y":221},{"s":"523c2","x":398.5,"y":216.2},{"s":"523c2","x":399,"y":205},{"s":"523c2","x":399.5,"y":196.5},{"s":"523c2","x":400,"y":192.5},{"s":"523c2","x":400.5,"y":191.1},{"s":"523c2","x":401,"y":190.4},{"s":"523c2","x":402,"y":189.8},{"s":"523c2","x":402.92,"y":189.5},
{"s":"573b","x":392.25,"y":143},{"s":"573b","x":402.67,"y":143},
{"s":"573e","x":392.25,"y":143.5},{"s":"573e","x":392.5,"y":143.6},{"s":"573e","x":393,"y":143.6},{"s":"573e","x":393.5,"y":143.8},{"s":"573e","x":394,"y":143.9},{"s":"573e","x":394.5,"y":144.2},{"s":"573e","x":395,"y":144.5},{"s":"573e","x":395.5,"y":145.2},{"s":"573e","x":396,"y":146.6},{"s":"573e","x":396.5,"y":149.5},{"s":"573e","x":397,"y":154.3},{"s":"573e","x":397.5,"y":160.5},{"s":"573e","x":398,"y":166.3},{"s":"573e","x":398.3,"y":168},{"s":"573e","x":398.5,"y":167.3},{"s":"573e","x":399,"y":162},{"s":"573e","x":399.5,"y":155.5},{"s":"573e","x":400,"y":150.3},{"s":"573e","x":400.5,"y":147},{"s":"573e","x":401,"y":145.5},{"s":"573e","x":401.5,"y":144.6},{"s":"573e","x":402,"y":144.2},{"s":"573e","x":402.5,"y":144},{"s":"573e","x":402.67,"y":143.9},
{"s":"623b","x":392.83,"y":92},{"s":"623b","x":402.92,"y":92},
{"s":"623e","x":392.83,"y":92.9},{"s":"623e","x":393,"y":92.9},{"s":"623e","x":393.5,"y":93},{"s":"623e","x":394,"y":93.3},{"s":"623e","x":394.5,"y":93.6},{"s":"623e","x":395,"y":94.1},{"s":"623e","x":395.5,"y":95.3},{"s":"623e","x":396,"y":97.3},{"s":"623e","x":396.5,"y":101.6},{"s":"623e","x":397,"y":108.5},{"s":"623e","x":397.5,"y":117},{"s":"623e","x":398,"y":124},{"s":"623e","x":398.2,"y":125},{"s":"623e","x":398.5,"y":122.7},{"s":"623e","x":399,"y":115.1},{"s":"623e","x":399.5,"y":106.9},{"s":"623e","x":400,"y":100.5},{"s":"623e","x":400.5,"y":96.8},{"s":"623e","x":401,"y":94.9},{"s":"623e","x":401.5,"y":94},{"s":"623e","x":402,"y":93.5},{"s":"623e","x":402.5,"y":93.2},{"s":"623e","x":402.92,"y":93},
{"s":"643b","x":392.83,"y":40},{"s":"643b","x":402.92,"y":40},
{"s":"643e","x":392.83,"y":40.9},{"s":"643e","x":393,"y":40.9},{"s":"643e","x":393.5,"y":41},{"s":"643e","x":394,"y":41.3},{"s":"643e","x":394.5,"y":41.6},{"s":"643e","x":395,"y":42.1},{"s":"643e","x":395.5,"y":43.3},{"s":"643e","x":396,"y":45.3},{"s":"643e","x":396.5,"y":49.6},{"s":"643e","x":397,"y":56.5},{"s":"643e","x":397.5,"y":65},{"s":"643e","x":398,"y":72},{"s":"643e","x":398.25,"y":73},{"s":"643e","x":398.5,"y":70.7},{"s":"643e","x":399,"y":63.1},{"s":"643e","x":399.5,"y":54.9},{"s":"643e","x":400,"y":48.5},{"s":"643e","x":400.5,"y":44.8},{"s":"643e","x":401,"y":42.9},{"s":"643e","x":401.5,"y":42},{"s":"643e","x":402,"y":41.5},{"s":"643e","x":402.5,"y":41.2},{"s":"643e","x":402.92,"y":41}
],
"fitB":[
{"s":"723b","x":393.5,"y":389},{"s":"723b","x":403.92,"y":389},
{"s":"723e","x":393.5,"y":390.2},{"s":"723e","x":394,"y":390.5},{"s":"723e","x":394.5,"y":390.9},{"s":"723e","x":395,"y":391.5},{"s":"723e","x":395.5,"y":392.6},{"s":"723e","x":396,"y":394.9},{"s":"723e","x":396.5,"y":399.6},{"s":"723e","x":397,"y":407.5},{"s":"723e","x":397.5,"y":417.7},{"s":"723e","x":398,"y":427.1},{"s":"723e","x":398.33,"y":430},{"s":"723e","x":398.5,"y":428.8},{"s":"723e","x":399,"y":420.6},{"s":"723e","x":399.5,"y":409.9},{"s":"723e","x":400,"y":401.3},{"s":"723e","x":400.5,"y":395.8},{"s":"723e","x":401,"y":393.1},{"s":"723e","x":401.5,"y":391.7},{"s":"723e","x":402,"y":391},{"s":"723e","x":402.5,"y":390.6},{"s":"723e","x":403,"y":390.3},{"s":"723e","x":403.5,"y":390.1},{"s":"723e","x":403.92,"y":390},
{"s":"743b","x":393.08,"y":320},{"s":"743b","x":404.58,"y":320},
{"s":"743e","x":393.08,"y":320.7},{"s":"743e","x":393.5,"y":320.8},{"s":"743e","x":394,"y":321},{"s":"743e","x":394.5,"y":321.3},{"s":"743e","x":395,"y":321.7},{"s":"743e","x":395.5,"y":322.4},{"s":"743e","x":396,"y":323.7},{"s":"743e","x":396.5,"y":326.8},{"s":"743e","x":397,"y":334.5},{"s":"743e","x":397.5,"y":349},{"s":"743e","x":398,"y":365},{"s":"743e","x":398.25,"y":368},{"s":"743e","x":398.5,"y":365.2},{"s":"743e","x":399,"y":351},{"s":"743e","x":399.5,"y":343.2},{"s":"743e","x":400,"y":340.8},{"s":"743e","x":400.5,"y":332.4},{"s":"743e","x":401,"y":324.4},{"s":"743e","x":401.5,"y":321.9},{"s":"743e","x":402,"y":321.3},{"s":"743e","x":402.5,"y":321.1},{"s":"743e","x":403,"y":320.9},{"s":"743e","x":403.5,"y":320.8},{"s":"743e","x":404,"y":320.7},{"s":"743e","x":404.58,"y":320.6},
{"s":"743m","x":398.25,"y":368},{"s":"743m","x":398.5,"y":365},{"s":"743m","x":399,"y":349},{"s":"743m","x":399.5,"y":334.5},{"s":"743m","x":400,"y":326.8},{"s":"743m","x":400.5,"y":323.7},{"s":"743m","x":401,"y":322.4},{"s":"743m","x":401.5,"y":321.7},{"s":"743m","x":402,"y":321.3},{"s":"743m","x":402.5,"y":321.1},
{"s":"743c4","x":398.5,"y":320.2},{"s":"743c4","x":399,"y":322},{"s":"743c4","x":399.5,"y":328.7},{"s":"743c4","x":400,"y":334},{"s":"743c4","x":400.5,"y":328.7},{"s":"743c4","x":401,"y":322},{"s":"743c4","x":401.5,"y":320.2},
{"s":"763b","x":393,"y":258},{"s":"763b","x":404.42,"y":258},
{"s":"763e","x":393,"y":258.6},{"s":"763e","x":393.5,"y":258.7},{"s":"763e","x":394,"y":258.8},{"s":"763e","x":394.5,"y":259},{"s":"763e","x":395,"y":259.4},{"s":"763e","x":395.5,"y":259.9},{"s":"763e","x":396,"y":260.9},{"s":"763e","x":396.5,"y":263.2},{"s":"763e","x":397,"y":268.8},{"s":"763e","x":397.5,"y":280},{"s":"763e","x":398,"y":294},{"s":"763e","x":398.33,"y":298},{"s":"763e","x":398.5,"y":296.4},{"s":"763e","x":399,"y":284.4},{"s":"763e","x":399.5,"y":271.6},{"s":"763e","x":400,"y":267.1},{"s":"763e","x":400.5,"y":270.4},{"s":"763e","x":401.1,"y":275},{"s":"763e","x":401.5,"y":271.5},{"s":"763e","x":402,"y":263.9},{"s":"763e","x":402.5,"y":259.8},{"s":"763e","x":403,"y":258.8},{"s":"763e","x":403.5,"y":258.7},{"s":"763e","x":404,"y":258.6},{"s":"763e","x":404.42,"y":258.6},
{"s":"763m","x":399,"y":284.4},{"s":"763m","x":399.5,"y":271.2},{"s":"763m","x":400,"y":264.4},{"s":"763m","x":400.5,"y":261.4},{"s":"763m","x":401.1,"y":260},{"s":"763m","x":401.5,"y":259.5},{"s":"763m","x":402,"y":259.1},{"s":"763m","x":402.5,"y":258.9},
{"s":"763c4","x":399.5,"y":258.4},{"s":"763c4","x":400,"y":260.7},{"s":"763c4","x":400.5,"y":267},{"s":"763c4","x":401.1,"y":273},{"s":"763c4","x":401.5,"y":270},{"s":"763c4","x":402,"y":262.8},{"s":"763c4","x":402.5,"y":258.9},{"s":"763c4","x":403,"y":258.1},
{"s":"783b","x":393,"y":192},{"s":"783b","x":404,"y":192},
{"s":"783e","x":393,"y":192.7},{"s":"783e","x":393.5,"y":192.8},{"s":"783e","x":394,"y":193},{"s":"783e","x":394.5,"y":193.3},{"s":"783e","x":395,"y":193.7},{"s":"783e","x":395.5,"y":194.4},{"s":"783e","x":396,"y":195.7},{"s":"783e","x":396.5,"y":198.8},{"s":"783e","x":397,"y":206.5},{"s":"783e","x":397.5,"y":221},{"s":"783e","x":398,"y":237},{"s":"783e","x":398.25,"y":240},{"s":"783e","x":398.5,"y":237.2},{"s":"783e","x":399,"y":222.8},{"s":"783e","x":399.5,"y":213.7},{"s":"783e","x":400,"y":213.4},{"s":"783e","x":400.25,"y":212.8},{"s":"783e","x":400.5,"y":210.3},{"s":"783e","x":401,"y":201.6},{"s":"783e","x":401.5,"y":195.5},{"s":"783e","x":402,"y":193.5},{"s":"783e","x":402.5,"y":193.1},{"s":"783e","x":403,"y":192.9},{"s":"783e","x":403.5,"y":192.8},{"s":"783e","x":404,"y":192.7},
{"s":"783m","x":398.25,"y":240},{"s":"783m","x":398.5,"y":237},{"s":"783m","x":399,"y":221},{"s":"783m","x":399.5,"y":206.5},{"s":"783m","x":400,"y":198.8},{"s":"783m","x":400.5,"y":195.7},{"s":"783m","x":401,"y":194.4},{"s":"783m","x":401.5,"y":193.7},{"s":"783m","x":402,"y":193.3},
{"s":"783c4","x":398.5,"y":192.2},{"s":"783c4","x":399,"y":193.8},{"s":"783c4","x":399.5,"y":199.2},{"s":"783c4","x":400,"y":206.6},{"s":"783c4","x":400.25,"y":208},{"s":"783c4","x":400.5,"y":206.6},{"s":"783c4","x":401,"y":199.2},{"s":"783c4","x":401.5,"y":193.8},{"s":"783c4","x":402,"y":192.2},
{"s":"803b","x":393.58,"y":119},{"s":"803b","x":403.75,"y":119},
{"s":"803e","x":393.58,"y":119.9},{"s":"803e","x":394,"y":120.1},{"s":"803e","x":394.5,"y":120.4},{"s":"803e","x":395,"y":120.8},{"s":"803e","x":395.5,"y":121.6},{"s":"803e","x":396,"y":122.9},{"s":"803e","x":396.5,"y":126},{"s":"803e","x":397,"y":133.6},{"s":"803e","x":397.5,"y":148.7},{"s":"803e","x":398,"y":167.6},{"s":"803e","x":398.33,"y":173},{"s":"803e","x":398.5,"y":170.8},{"s":"803e","x":399,"y":154.6},{"s":"803e","x":399.5,"y":136.8},{"s":"803e","x":400,"y":127.6},{"s":"803e","x":400.5,"y":123.6},{"s":"803e","x":401,"y":122},{"s":"803e","x":401.5,"y":121.1},{"s":"803e","x":402,"y":120.5},{"s":"803e","x":402.5,"y":120.2},{"s":"803e","x":403,"y":120},{"s":"803e","x":403.5,"y":119.8},{"s":"803e","x":403.75,"y":119.8},
{"s":"823b","x":393.67,"y":43},{"s":"823b","x":403.75,"y":43},
{"s":"823e","x":393.67,"y":43.7},{"s":"823e","x":394,"y":43.8},{"s":"823e","x":394.5,"y":44},{"s":"823e","x":395,"y":44.3},{"s":"823e","x":395.5,"y":44.9},{"s":"823e","x":396,"y":45.9},{"s":"823e","x":396.5,"y":48.2},{"s":"823e","x":397,"y":54.2},{"s":"823e","x":397.5,"y":65.3},{"s":"823e","x":398,"y":77.7},{"s":"823e","x":398.25,"y":80},{"s":"823e","x":398.5,"y":77.7},{"s":"823e","x":399,"y":65.3},{"s":"823e","x":399.5,"y":54.2},{"s":"823e","x":400,"y":48.2},{"s":"823e","x":400.5,"y":45.9},{"s":"823e","x":401,"y":44.9},{"s":"823e","x":401.5,"y":44.3},{"s":"823e","x":402,"y":44},{"s":"823e","x":402.5,"y":43.8},{"s":"823e","x":403,"y":43.7},{"s":"823e","x":403.75,"y":43.6}
],
"vA":[{"x":398.15,"y":15,"y2":463}],
"vB":[{"x":398.3,"y":28,"y2":463}],
"numA":[{"x":392,"y":447,"t":"(a)"},{"x":405.17,"y":446,"t":"T(K)"},{"x":405.08,"y":418,"t":"297"},{"x":405.08,"y":330,"t":"323"},{"x":405.08,"y":263,"t":"453"},{"x":405.08,"y":208,"t":"523"},{"x":405.08,"y":161,"t":"573"},{"x":405.08,"y":115,"t":"623"},{"x":405.08,"y":61,"t":"643"}],
"numB":[{"x":392.08,"y":446,"t":"(b)"},{"x":405.33,"y":446,"t":"T(K)"},{"x":405.33,"y":416,"t":"723"},{"x":405.33,"y":346,"t":"743"},{"x":405.25,"y":283,"t":"763"},{"x":405.25,"y":228,"t":"783"},{"x":405.25,"y":151,"t":"803"},{"x":405.17,"y":70,"t":"823"}],
"bigA":[{"x":387.75,"y":426,"t":"N"},{"x":389.75,"y":426,"t":"(N-rich)"},{"x":389.58,"y":353,"t":"N"},{"x":391.58,"y":353,"t":"(O-rich)"},{"x":402.58,"y":353,"t":"-NO species"}],
"subA":[{"x":389,"y":419,"t":"O"},{"x":390.83,"y":346,"t":"O"}],
"pkA":[{"x":394.75,"y":478,"t":"1"},{"x":397.83,"y":478,"t":"2"},{"x":401.17,"y":478,"t":"3"}],
"evA":[{"x":395.42,"y":457,"t":"396"},{"x":398.17,"y":457,"t":"398"},{"x":401.25,"y":457,"t":"400"}],
"arrA":[{"k":"n","x":395.33,"y":402,"x2":392.56,"y2":413.3},{"k":"o","x":398.25,"y":393,"x2":396.06,"y2":369.3},{"k":"s","x":399.75,"y":401,"x2":402.53,"y2":371.3}],
"bigB":[{"x":400.33,"y":433,"t":"(N"},{"x":402.42,"y":433,"t":")"}],
"subB":[{"x":401.83,"y":426,"t":"2"},{"x":402.92,"y":425,"t":"O"}],
"pkB":[{"x":402.83,"y":376,"t":"4"}],
"evB":[{"x":401.83,"y":358,"t":"402 eV"}],
"arrB":[{"k":"g","x":401.08,"y":373,"x2":401.53,"y2":417.5}]
},
"hconcat":[
{"width":210,"height":466,
"resolve":{"axis":{"x":"independent"}},
"layer":[
{"data":{"name":"redA"},"mark":{"type":"line","color":"#e3161c","strokeWidth":1},
"encoding":{
"x":{"field":"x","type":"quantitative","scale":{"domain":[390,407.5],"nice":false,"zero":false},
"axis":{"orient":"bottom","values":[395,400,405],"ticks":false,"labelFont":"Liberation Serif","labelFontSize":22,"labelColor":"#111","labelPadding":6,"labelOverlap":false,"labelFlush":false,"domain":false,"grid":false,"title":"Binding energy (eV)","titleFont":"Liberation Serif","titleFontSize":23,"titleFontWeight":"normal","titleColor":"#111","titleX":215,"titleY":39,"titleBaseline":"middle"}},
"y":{"field":"y","type":"quantitative","scale":{"domain":[0,466],"nice":false,"zero":false},
"axis":{"title":"Intensity (a.u.)","labels":false,"ticks":false,"domain":false,"grid":false,"titleFont":"Liberation Serif","titleFontSize":25,"titleFontWeight":"normal","titleColor":"#111","titlePadding":13}},
"detail":{"field":"s"}}},
{"data":{"name":"fitA"},"mark":{"type":"line","color":"#1c1c6e","strokeWidth":2.3,"strokeDash":[7,4]},
"encoding":{"x":{"field":"x","type":"quantitative","axis":{"orient":"bottom","values":[392.5,395,397.5,400,402.5,405,407.5],"labels":false,"ticks":true,"tickSize":-4,"tickOffset":-6,"tickColor":"#222","tickWidth":1.3,"domain":false,"grid":false,"title":null}},"y":{"field":"y","type":"quantitative"},"detail":{"field":"s"}}},
{"data":{"name":"vA"},"mark":{"type":"rule","color":"#1a2a9e","strokeWidth":2.6,"strokeDash":[6,4]},
"encoding":{"x":{"field":"x","type":"quantitative","axis":null},"y":{"field":"y","type":"quantitative"},"y2":{"field":"y2"}}},
{"data":{"name":"numA"},"mark":{"type":"text","font":"Liberation Serif","fontSize":23,"color":"#111","align":"center","baseline":"middle"},
"encoding":{"x":{"field":"x","type":"quantitative","axis":null},"y":{"field":"y","type":"quantitative"},"text":{"field":"t"}}},
{"data":{"name":"arrA"},"mark":{"type":"rule","color":"#111","strokeWidth":3},
"encoding":{"x":{"field":"x","type":"quantitative","axis":null},"y":{"field":"y","type":"quantitative"},"x2":{"field":"x2"},"y2":{"field":"y2"}}},
{"data":{"name":"arrA"},"transform":[{"filter":"datum.k == 'n'"}],"mark":{"type":"point","shape":"triangle-up","filled":true,"color":"#111","opacity":1,"size":120,"angle":289},
"encoding":{"x":{"field":"x2","type":"quantitative","axis":null},"y":{"field":"y2","type":"quantitative"}}},
{"data":{"name":"arrA"},"transform":[{"filter":"datum.k == 'o'"}],"mark":{"type":"point","shape":"triangle-up","filled":true,"color":"#111","opacity":1,"size":120,"angle":228},
"encoding":{"x":{"field":"x2","type":"quantitative","axis":null},"y":{"field":"y2","type":"quantitative"}}},
{"data":{"name":"arrA"},"transform":[{"filter":"datum.k == 's'"}],"mark":{"type":"point","shape":"triangle-up","filled":true,"color":"#111","opacity":1,"size":120,"angle":132},
"encoding":{"x":{"field":"x2","type":"quantitative","axis":null},"y":{"field":"y2","type":"quantitative"}}},
{"data":{"name":"bigA"},"mark":{"type":"text","font":"DejaVu Sans","fontWeight":"bold","fontSize":17.5,"color":"#2432c8","align":"left","baseline":"middle"},
"encoding":{"x":{"field":"x","type":"quantitative","axis":null},"y":{"field":"y","type":"quantitative"},"text":{"field":"t"}}},
{"data":{"name":"subA"},"mark":{"type":"text","font":"DejaVu Sans","fontWeight":"bold","fontSize":11.5,"color":"#2432c8","align":"left","baseline":"middle"},
"encoding":{"x":{"field":"x","type":"quantitative","axis":null},"y":{"field":"y","type":"quantitative"},"text":{"field":"t"}}},
{"data":{"name":"pkA"},"mark":{"type":"text","font":"DejaVu Sans","fontWeight":"bold","fontSize":18,"color":"#2432c8","align":"center","baseline":"middle"},
"encoding":{"x":{"field":"x","type":"quantitative","axis":null},"y":{"field":"y","type":"quantitative"},"text":{"field":"t"}}},
{"data":{"name":"evA"},"mark":{"type":"text","font":"DejaVu Sans","fontWeight":"bold","fontSize":12,"color":"#2432c8","align":"center","baseline":"middle"},
"encoding":{"x":{"field":"x","type":"quantitative","axis":null},"y":{"field":"y","type":"quantitative"},"text":{"field":"t"}}}
]},
{"width":210,"height":466,
"resolve":{"axis":{"x":"independent"}},
"layer":[
{"data":{"name":"redB"},"mark":{"type":"line","color":"#e3161c","strokeWidth":1},
"encoding":{
"x":{"field":"x","type":"quantitative","scale":{"domain":[390,407.5],"nice":false,"zero":false},
"axis":{"orient":"bottom","values":[395,400,405],"ticks":false,"labelFont":"Liberation Serif","labelFontSize":22,"labelColor":"#111","labelPadding":6,"labelOverlap":false,"labelFlush":false,"domain":false,"grid":false,"title":null}},
"y":{"field":"y","type":"quantitative","scale":{"domain":[0,466],"nice":false,"zero":false},"axis":null},
"detail":{"field":"s"}}},
{"data":{"name":"fitB"},"mark":{"type":"line","color":"#1c1c6e","strokeWidth":2.3,"strokeDash":[7,4]},
"encoding":{"x":{"field":"x","type":"quantitative","axis":{"orient":"bottom","values":[392.5,395,397.5,400,402.5,405,407.5],"labels":false,"ticks":true,"tickSize":-4,"tickOffset":-6,"tickColor":"#222","tickWidth":1.3,"domain":false,"grid":false,"title":null}},"y":{"field":"y","type":"quantitative"},"detail":{"field":"s"}}},
{"data":{"name":"vB"},"mark":{"type":"rule","color":"#1a2a9e","strokeWidth":2.6,"strokeDash":[6,4]},
"encoding":{"x":{"field":"x","type":"quantitative","axis":null},"y":{"field":"y","type":"quantitative"},"y2":{"field":"y2"}}},
{"data":{"name":"numB"},"mark":{"type":"text","font":"Liberation Serif","fontSize":23,"color":"#111","align":"center","baseline":"middle"},
"encoding":{"x":{"field":"x","type":"quantitative","axis":null},"y":{"field":"y","type":"quantitative"},"text":{"field":"t"}}},
{"data":{"name":"arrB"},"mark":{"type":"rule","color":"#111","strokeWidth":3},
"encoding":{"x":{"field":"x","type":"quantitative","axis":null},"y":{"field":"y","type":"quantitative"},"x2":{"field":"x2"},"y2":{"field":"y2"}}},
{"data":{"name":"arrB"},"mark":{"type":"point","shape":"triangle-up","filled":true,"color":"#111","opacity":1,"size":120,"angle":7},
"encoding":{"x":{"field":"x2","type":"quantitative","axis":null},"y":{"field":"y2","type":"quantitative"}}},
{"data":{"name":"bigB"},"mark":{"type":"text","font":"DejaVu Sans","fontWeight":"bold","fontSize":14,"color":"#2432c8","align":"left","baseline":"middle"},
"encoding":{"x":{"field":"x","type":"quantitative","axis":null},"y":{"field":"y","type":"quantitative"},"text":{"field":"t"}}},
{"data":{"name":"subB"},"mark":{"type":"text","font":"DejaVu Sans","fontWeight":"bold","fontSize":10,"color":"#2432c8","align":"left","baseline":"middle"},
"encoding":{"x":{"field":"x","type":"quantitative","axis":null},"y":{"field":"y","type":"quantitative"},"text":{"field":"t"}}},
{"data":{"name":"pkB"},"mark":{"type":"text","font":"DejaVu Sans","fontWeight":"bold","fontSize":16,"color":"#2432c8","align":"center","baseline":"middle"},
"encoding":{"x":{"field":"x","type":"quantitative","axis":null},"y":{"field":"y","type":"quantitative"},"text":{"field":"t"}}},
{"data":{"name":"evB"},"mark":{"type":"text","font":"DejaVu Sans","fontWeight":"bold","fontSize":11,"color":"#2432c8","align":"center","baseline":"middle"},
"encoding":{"x":{"field":"x","type":"quantitative","axis":null},"y":{"field":"y","type":"quantitative"},"text":{"field":"t"}}}
]}
]
}
